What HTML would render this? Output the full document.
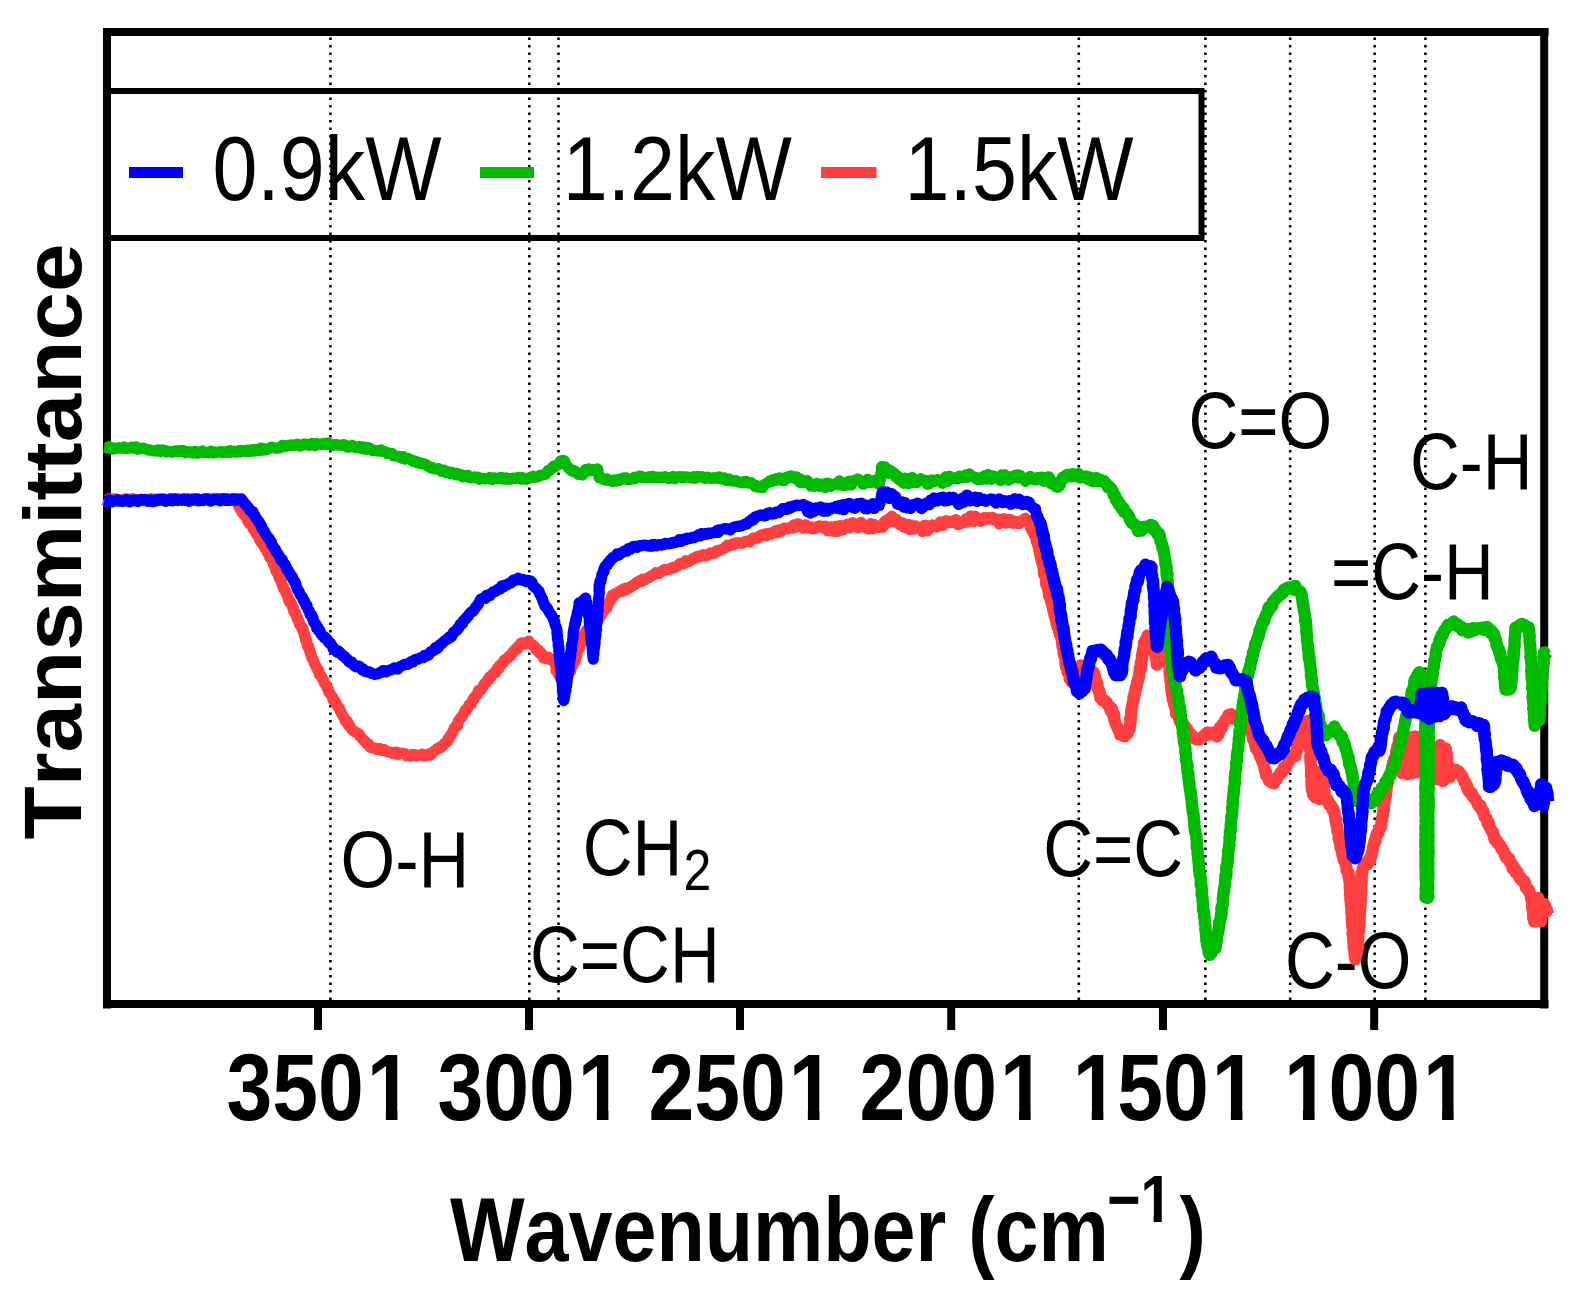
<!DOCTYPE html>
<html lang="en"><head><meta charset="utf-8"><title>FTIR transmittance spectra</title>
<style>html,body{margin:0;padding:0;background:#fff}svg{display:block}</style></head>
<body>
<svg width="1575" height="1305" viewBox="0 0 1575 1305" font-family='"Liberation Sans", sans-serif' fill="#000" style="font-kerning:none">
<rect width="1575" height="1305" fill="#fff"/>
<g stroke="#000" stroke-width="2.6" stroke-dasharray="2.6 4.9" fill="none">
<line x1="330.4" y1="37.5" x2="330.4" y2="1000"/>
<line x1="529.3" y1="37.5" x2="529.3" y2="1000"/>
<line x1="558.5" y1="37.5" x2="558.5" y2="1000"/>
<line x1="1078.8" y1="37.5" x2="1078.8" y2="1000"/>
<line x1="1205.4" y1="37.5" x2="1205.4" y2="1000"/>
<line x1="1290.2" y1="37.5" x2="1290.2" y2="1000"/>
<line x1="1374.7" y1="37.5" x2="1374.7" y2="1000"/>
<line x1="1425.4" y1="37.5" x2="1425.4" y2="1000"/>
</g>
<rect x="107" y="91" width="1094.5" height="147" fill="none" stroke="#000" stroke-width="6"/>
<rect x="129" y="167" width="54" height="11" fill="#0000ff"/>
<rect x="480" y="167" width="54" height="11" fill="#00bb00"/>
<rect x="821" y="167" width="55.5" height="11" fill="#ff4040"/>
<text transform="translate(212.4 199.5) scale(0.8980 1)" font-size="90" text-anchor="start">0.9kW</text>
<text transform="translate(562.7 199.5) scale(0.8980 1)" font-size="90" text-anchor="start">1.2kW</text>
<text transform="translate(904.6 199.5) scale(0.8980 1)" font-size="90" text-anchor="start">1.5kW</text>
<text transform="translate(340.5 886.6) scale(0.8843 1)" font-size="79.5" text-anchor="start">O-H</text>
<text transform="translate(582.7 874.9) scale(0.8670 1)" font-size="79.5" text-anchor="start">CH<tspan font-size="57.7" dy="14.6" dx="1.5">2</tspan></text>
<text transform="translate(530.1 981.5) scale(0.8670 1)" font-size="79.5" text-anchor="start">C=CH</text>
<text transform="translate(1043.3 876.0) scale(0.8670 1)" font-size="79.5" text-anchor="start">C=C</text>
<text transform="translate(1188.6 447.7) scale(0.8670 1)" font-size="79.5" text-anchor="start">C=O</text>
<text transform="translate(1410.0 489.1) scale(0.8670 1)" font-size="79.5" text-anchor="start">C-H</text>
<text transform="translate(1331.0 599.2) scale(0.8670 1)" font-size="79.5" text-anchor="start">=C-H</text>
<text transform="translate(1285.0 988.2) scale(0.8670 1)" font-size="79.5" text-anchor="start">C-O</text>
<g stroke="#000" stroke-width="8" fill="none" stroke-linecap="butt">
<line x1="103" y1="32" x2="1548.5" y2="32"/>
<line x1="103" y1="1004" x2="1548.5" y2="1004"/>
<line x1="107" y1="28" x2="107" y2="1008.5"/>
<line x1="1544.2" y1="28" x2="1544.2" y2="1008.5"/>
<line x1="318.0" y1="1008" x2="318.0" y2="1030"/>
<line x1="529.0" y1="1008" x2="529.0" y2="1030"/>
<line x1="740.0" y1="1008" x2="740.0" y2="1030"/>
<line x1="951.2" y1="1008" x2="951.2" y2="1030"/>
<line x1="1163.0" y1="1008" x2="1163.0" y2="1030"/>
<line x1="1374.2" y1="1008" x2="1374.2" y2="1030"/>
</g>
<text transform="translate(226.4 1120.0) scale(0.8760 1)" font-size="94" font-weight="bold" text-anchor="start">350<tspan dx="3.42">1</tspan></text>
<text transform="translate(437.4 1120.0) scale(0.8760 1)" font-size="94" font-weight="bold" text-anchor="start">300<tspan dx="3.42">1</tspan></text>
<text transform="translate(648.4 1120.0) scale(0.8760 1)" font-size="94" font-weight="bold" text-anchor="start">250<tspan dx="3.42">1</tspan></text>
<text transform="translate(859.6 1120.0) scale(0.8760 1)" font-size="94" font-weight="bold" text-anchor="start">200<tspan dx="3.42">1</tspan></text>
<text transform="translate(1071.4 1120.0) scale(0.8760 1)" font-size="94" font-weight="bold" text-anchor="start"><tspan dx="1.48">1</tspan><tspan dx="-1.48">5</tspan>0<tspan dx="3.42">1</tspan></text>
<text transform="translate(1282.6 1120.0) scale(0.8760 1)" font-size="94" font-weight="bold" text-anchor="start"><tspan dx="1.48">1</tspan><tspan dx="-1.48">0</tspan>0<tspan dx="3.42">1</tspan></text>
<rect x="370.38" y="1109.41" width="15.48" height="11.59" fill="#fff"/>
<rect x="397.46" y="1109.41" width="14.44" height="11.59" fill="#fff"/>
<rect x="581.38" y="1109.41" width="15.48" height="11.59" fill="#fff"/>
<rect x="608.46" y="1109.41" width="14.44" height="11.59" fill="#fff"/>
<rect x="792.38" y="1109.41" width="15.48" height="11.59" fill="#fff"/>
<rect x="819.46" y="1109.41" width="14.44" height="11.59" fill="#fff"/>
<rect x="1003.58" y="1109.41" width="15.48" height="11.59" fill="#fff"/>
<rect x="1030.66" y="1109.41" width="14.44" height="11.59" fill="#fff"/>
<rect x="1076.30" y="1109.41" width="15.48" height="11.59" fill="#fff"/>
<rect x="1103.38" y="1109.41" width="14.44" height="11.59" fill="#fff"/>
<rect x="1215.38" y="1109.41" width="15.48" height="11.59" fill="#fff"/>
<rect x="1242.46" y="1109.41" width="14.44" height="11.59" fill="#fff"/>
<rect x="1287.50" y="1109.41" width="15.48" height="11.59" fill="#fff"/>
<rect x="1314.58" y="1109.41" width="14.44" height="11.59" fill="#fff"/>
<rect x="1426.58" y="1109.41" width="15.48" height="11.59" fill="#fff"/>
<rect x="1453.66" y="1109.41" width="14.44" height="11.59" fill="#fff"/>
<text transform="translate(450 1261) scale(0.8687 1)" font-size="91" font-weight="bold">Wavenumber (cm<tspan font-size="66" x="756.2" y="-39">−1</tspan><tspan x="839.8" y="0">)</tspan></text>
<rect x="1142.39" y="1214.26" width="11.22" height="8.74" fill="#fff"/>
<rect x="1161.78" y="1214.26" width="10.49" height="8.74" fill="#fff"/>
<text transform="translate(80.6 541.6) rotate(-90) scale(1 0.9400)" font-size="87.2" font-weight="bold" text-anchor="middle">Transmittance</text>
<g fill="none" stroke-linejoin="round" stroke-linecap="butt">
<path stroke="#ff4040" stroke-width="11.2" d="M103.7,499.6 L105.4,500.4 L107.3,500.1 L109.1,498.9 L110.7,498.8 L112.2,498.9 L114.4,499.8 L115.6,499.0 L117.9,500.3 L119.2,500.1 L120.6,501.1 L122.5,500.8 L124.0,499.0 L126.2,499.4 L127.8,499.1 L129.3,500.3 L130.7,500.0 L132.5,498.8 L134.4,500.3 L136.2,499.4 L137.7,499.8 L139.7,500.6 L141.3,499.2 L143.2,499.9 L144.5,500.4 L146.0,501.0 L148.2,499.6 L149.7,499.0 L151.5,498.7 L153.1,500.5 L154.6,500.7 L156.5,500.3 L158.1,500.0 L160.2,500.6 L161.7,499.7 L163.4,498.7 L165.3,500.1 L166.5,500.6 L168.4,499.5 L170.0,498.6 L171.4,498.9 L173.6,498.6 L174.9,498.8 L177.0,499.5 L178.4,498.7 L180.4,499.8 L182.1,500.5 L183.5,499.1 L185.5,499.3 L186.7,500.8 L188.4,498.9 L190.3,499.0 L191.8,499.9 L193.6,498.4 L195.4,499.3 L197.2,500.8 L198.9,499.7 L200.1,500.1 L202.4,500.6 L204.1,500.6 L205.5,499.3 L207.3,498.6 L208.6,498.5 L210.4,498.9 L212.0,499.2 L213.7,498.3 L215.6,498.6 L217.7,498.4 L218.8,499.8 L220.7,498.9 L222.2,499.2 L224.5,500.4 L225.8,499.5 L227.2,498.5 L229.1,499.1 L230.7,500.3 L233.0,498.3 L234.0,499.6 L235.6,499.6 L237.0,501.3 L237.3,503.8 L237.7,504.0 L238.6,505.5 L239.5,507.7 L240.1,508.6 L241.6,511.2 L242.4,512.6 L243.2,513.9 L244.0,513.8 L244.6,515.5 L245.7,516.0 L246.9,517.9 L247.7,521.0 L249.0,522.4 L249.5,523.8 L250.3,523.3 L251.2,524.6 L252.7,527.0 L253.3,529.0 L254.4,530.0 L255.2,530.1 L256.2,533.6 L256.9,534.7 L258.0,534.8 L258.9,536.6 L259.5,539.7 L260.8,539.8 L261.1,542.0 L262.0,542.0 L263.4,545.4 L264.3,545.0 L265.0,548.6 L265.9,548.5 L266.3,549.4 L267.7,553.0 L268.8,553.4 L269.5,554.7 L269.7,557.3 L270.5,557.5 L271.4,559.0 L272.0,560.7 L273.1,561.9 L273.4,564.1 L274.5,566.2 L275.2,567.4 L275.6,569.2 L275.9,570.9 L276.8,572.3 L277.9,572.8 L278.4,574.8 L279.1,577.8 L279.8,578.4 L280.7,580.5 L281.2,581.0 L281.7,583.0 L282.6,585.9 L283.5,587.0 L284.0,589.4 L284.7,590.3 L285.5,591.6 L286.1,593.1 L287.2,594.7 L287.8,596.9 L288.1,599.1 L289.3,599.7 L289.4,602.0 L290.4,601.8 L290.9,603.3 L292.0,604.9 L292.9,608.2 L293.4,608.2 L293.7,611.1 L295.1,613.3 L295.8,613.2 L296.1,615.2 L297.1,618.3 L297.5,617.9 L298.2,620.3 L298.9,621.1 L299.4,624.1 L300.4,625.2 L301.0,625.5 L301.9,628.6 L303.0,628.8 L303.5,632.2 L303.5,632.1 L304.4,633.5 L304.4,635.7 L305.5,637.7 L305.5,640.2 L306.5,640.2 L306.9,642.8 L306.9,643.2 L307.7,646.3 L308.6,646.3 L309.0,649.3 L309.6,649.5 L310.1,650.9 L310.3,653.4 L311.3,655.1 L311.2,655.9 L311.8,658.1 L312.5,658.5 L313.3,659.9 L314.1,662.1 L314.9,664.7 L315.6,665.6 L316.2,666.7 L317.0,668.0 L318.1,670.8 L318.8,670.9 L319.3,674.3 L320.3,675.5 L321.4,676.2 L321.9,677.5 L323.0,679.8 L323.7,680.4 L324.3,682.9 L324.8,683.6 L325.4,684.3 L326.6,685.8 L327.0,687.8 L328.2,688.9 L328.9,692.4 L329.3,692.5 L330.4,694.0 L331.2,695.2 L332.5,696.9 L333.1,700.2 L334.3,699.9 L334.8,701.6 L335.7,702.3 L336.7,705.0 L337.5,705.8 L338.3,706.8 L339.3,708.5 L339.9,709.9 L340.9,712.1 L342.0,714.3 L343.0,716.2 L344.1,717.6 L344.5,718.2 L345.3,721.1 L346.5,721.9 L347.6,721.6 L348.3,725.1 L349.3,726.1 L349.9,726.0 L351.1,728.3 L352.4,730.2 L353.8,730.8 L355.0,732.2 L355.8,732.2 L357.4,733.1 L359.2,734.2 L360.3,736.5 L361.7,737.8 L362.4,738.7 L364.2,740.7 L365.2,741.2 L366.0,742.8 L367.4,744.2 L368.5,743.8 L369.7,746.6 L371.5,747.9 L372.7,747.7 L374.6,748.1 L376.3,749.2 L377.5,749.4 L379.4,748.5 L381.1,750.5 L382.6,750.4 L384.5,749.6 L386.5,751.6 L387.9,752.0 L389.7,752.0 L391.1,752.3 L392.9,753.6 L395.1,754.1 L396.4,752.0 L398.5,754.2 L399.7,753.5 L401.9,753.2 L403.3,753.5 L405.0,753.5 L406.4,755.8 L408.3,755.7 L410.2,756.2 L412.0,754.8 L413.1,755.7 L415.1,754.7 L416.7,756.1 L418.4,755.0 L420.5,755.2 L422.1,754.1 L423.3,755.9 L425.5,755.9 L426.8,755.5 L428.6,753.9 L430.5,755.2 L432.0,753.4 L433.0,752.1 L434.9,750.6 L436.2,750.0 L437.0,748.8 L438.2,748.4 L440.0,747.0 L441.2,747.3 L442.5,745.6 L443.5,745.3 L444.4,743.7 L446.0,742.6 L447.4,741.6 L447.9,739.0 L448.8,739.1 L449.9,736.4 L451.1,734.5 L451.6,734.7 L452.5,732.4 L453.5,730.7 L454.2,728.2 L455.7,726.8 L456.0,726.1 L457.5,725.6 L457.8,722.9 L458.6,720.8 L459.5,719.7 L460.5,717.9 L461.9,717.3 L462.4,716.2 L463.5,714.0 L464.3,712.4 L465.2,710.2 L466.0,711.0 L467.4,708.5 L468.0,707.9 L469.0,705.0 L470.1,703.9 L471.4,703.9 L471.7,702.2 L473.2,698.7 L474.0,699.4 L474.6,697.2 L476.2,695.3 L477.1,694.9 L477.6,693.9 L478.6,690.4 L480.1,690.1 L481.3,689.8 L482.4,687.8 L483.4,686.0 L484.6,683.6 L485.8,682.7 L486.5,682.5 L487.6,679.8 L489.0,679.8 L489.6,677.1 L491.1,676.8 L491.9,675.2 L492.9,674.4 L494.3,672.3 L495.6,672.6 L496.6,671.1 L497.5,668.2 L498.9,668.7 L499.5,665.7 L501.1,664.8 L501.9,663.3 L503.5,662.6 L504.0,660.3 L505.5,659.4 L506.5,659.1 L508.1,658.2 L508.9,656.3 L510.2,656.3 L511.3,654.7 L512.9,652.0 L514.2,651.0 L514.8,650.3 L516.2,648.5 L517.8,648.4 L518.5,645.9 L520.2,644.9 L520.7,643.5 L522.4,642.8 L524.3,644.4 L525.9,643.5 L527.0,643.5 L528.9,641.1 L529.5,643.6 L531.0,644.4 L532.3,644.8 L533.3,645.3 L534.8,646.7 L535.9,649.4 L537.1,650.7 L538.6,650.5 L539.4,652.9 L540.5,652.2 L541.9,654.3 L542.6,655.1 L543.4,658.1 L545.7,657.3 L546.9,658.6 L548.6,657.2 L550.4,659.9 L552.6,659.9 L553.8,659.3 L554.5,662.5 L555.0,662.5 L555.1,664.3 L555.9,665.2 L556.2,669.2 L556.1,670.9 L557.3,670.6 L558.4,673.9 L558.7,673.9 L559.6,675.5 L560.2,678.2 L561.4,679.3 L562.2,680.8 L563.1,679.3 L564.3,677.5 L565.3,677.7 L567.0,675.2 L567.7,674.4 L568.8,672.2 L569.9,671.4 L570.7,671.2 L570.8,668.0 L571.9,666.0 L572.7,665.9 L573.5,663.1 L574.4,662.5 L575.1,661.2 L575.1,659.4 L575.8,658.2 L576.4,655.9 L576.8,654.7 L577.4,651.8 L578.4,649.9 L578.5,649.4 L579.6,647.3 L579.5,645.9 L580.4,645.1 L580.5,643.9 L581.6,641.0 L582.2,640.3 L582.5,636.8 L583.1,635.5 L584.1,636.2 L584.7,634.6 L585.5,633.0 L586.5,630.1 L586.7,630.3 L588.5,628.6 L589.7,626.8 L591.0,625.8 L592.7,625.2 L593.8,625.4 L594.9,622.4 L595.8,622.7 L596.9,620.4 L598.1,620.2 L598.8,617.0 L600.2,616.5 L600.9,615.7 L602.3,613.2 L602.9,612.3 L604.3,610.7 L604.9,609.2 L605.7,607.9 L607.1,607.7 L607.4,605.1 L608.3,604.5 L609.7,601.3 L610.5,600.9 L611.3,599.2 L611.4,597.7 L612.4,595.0 L614.1,595.7 L615.3,593.5 L616.6,593.4 L617.9,592.1 L619.8,592.2 L620.9,590.3 L622.6,591.3 L623.4,588.9 L625.5,590.1 L626.3,588.2 L628.0,588.6 L629.7,587.8 L630.8,586.8 L632.3,586.0 L634.2,584.3 L635.2,584.6 L636.8,582.3 L638.3,582.4 L639.7,580.6 L641.6,581.4 L642.8,579.0 L644.1,580.0 L645.7,579.4 L647.6,578.1 L649.1,577.4 L650.9,576.1 L652.5,575.3 L654.0,574.6 L655.7,572.8 L657.0,573.4 L659.0,573.5 L660.2,572.1 L661.7,571.5 L663.5,570.1 L665.2,569.4 L666.5,569.8 L668.1,569.5 L670.2,569.2 L671.3,568.0 L673.1,567.3 L674.5,567.6 L676.7,566.6 L678.1,565.6 L679.8,563.5 L681.3,563.5 L682.3,564.0 L684.5,563.1 L685.6,560.7 L687.1,561.8 L688.7,561.6 L690.2,560.8 L692.4,559.4 L693.5,558.1 L695.1,558.3 L696.6,556.5 L698.7,556.2 L700.3,556.9 L701.9,555.3 L703.3,554.7 L704.8,555.6 L706.6,555.8 L708.5,554.6 L710.3,553.0 L711.4,553.6 L712.9,553.4 L714.8,553.2 L716.5,550.9 L717.7,550.4 L719.2,550.5 L721.0,550.0 L723.1,548.9 L724.5,548.1 L725.6,546.7 L727.3,545.3 L729.1,546.1 L731.1,545.1 L732.3,543.9 L733.9,544.8 L735.9,542.9 L737.7,542.8 L739.6,542.8 L741.0,543.3 L743.0,543.1 L745.0,541.5 L746.2,541.5 L748.3,540.8 L750.0,541.9 L751.2,539.8 L753.1,538.0 L754.5,538.5 L756.2,537.9 L758.0,538.2 L759.7,536.0 L761.0,535.1 L762.3,535.5 L764.3,534.2 L765.8,533.7 L767.0,535.6 L769.0,533.3 L770.6,533.6 L771.8,534.0 L773.5,532.2 L775.5,530.9 L777.0,532.8 L778.7,529.8 L780.0,531.9 L781.5,531.3 L782.8,528.8 L784.2,528.2 L786.3,528.1 L787.9,529.0 L789.0,528.6 L790.6,527.3 L792.2,527.9 L793.9,524.8 L795.1,527.7 L796.4,526.8 L798.3,523.8 L800.5,526.8 L801.7,527.1 L803.4,528.3 L805.6,524.8 L807.1,527.5 L809.0,528.1 L810.6,527.1 L812.3,528.9 L813.9,527.6 L815.3,528.7 L817.2,526.7 L819.1,526.0 L820.1,526.6 L822.5,526.4 L823.6,528.1 L825.3,526.2 L827.4,530.7 L829.2,530.8 L830.8,526.8 L832.6,528.9 L834.4,531.5 L836.1,526.3 L837.8,531.5 L839.0,525.9 L840.5,525.6 L842.8,530.1 L844.5,528.3 L845.8,528.0 L847.3,524.2 L849.1,528.1 L851.0,525.0 L852.5,522.7 L854.6,524.1 L856.0,524.3 L857.8,527.8 L859.5,527.4 L861.0,522.3 L862.9,525.2 L864.5,524.9 L865.7,526.4 L867.3,528.8 L869.0,528.8 L870.6,523.7 L872.8,528.9 L874.1,524.3 L875.9,527.7 L877.3,526.0 L879.2,527.3 L880.9,527.0 L881.5,525.9 L882.9,527.3 L884.1,522.2 L885.3,520.8 L886.5,523.5 L887.3,521.8 L888.5,519.0 L889.4,520.9 L890.4,519.6 L892.0,516.2 L893.6,521.7 L895.3,519.3 L896.4,519.3 L898.0,522.2 L899.4,524.7 L900.5,523.0 L902.3,522.8 L903.7,527.1 L905.1,524.1 L906.9,528.4 L908.5,524.4 L910.1,529.7 L911.8,525.4 L913.9,529.1 L915.1,525.8 L916.9,526.7 L918.4,528.7 L920.2,527.3 L922.3,531.4 L924.1,525.6 L925.4,525.4 L927.4,531.0 L928.9,529.2 L930.7,525.6 L932.1,524.9 L933.7,526.6 L935.7,525.9 L937.0,527.0 L938.5,525.9 L940.2,521.9 L941.8,522.9 L943.1,525.4 L944.8,522.5 L946.0,520.7 L948.0,521.9 L949.4,521.5 L951.0,522.6 L952.6,521.9 L954.4,520.4 L955.9,519.6 L957.9,524.7 L959.2,524.3 L961.0,522.4 L962.5,523.0 L964.5,522.7 L965.9,518.9 L967.3,522.1 L969.3,519.6 L970.5,516.0 L972.3,516.2 L973.8,521.4 L975.5,516.2 L977.3,519.2 L979.0,519.2 L980.6,521.4 L982.6,518.9 L984.1,517.7 L985.8,519.1 L987.7,517.5 L988.7,519.2 L990.7,518.8 L992.4,517.3 L994.3,520.1 L995.6,519.9 L997.7,519.2 L999.2,523.9 L1001.2,519.2 L1002.5,520.4 L1004.6,518.7 L1006.2,523.2 L1007.9,521.0 L1009.9,519.4 L1011.4,520.3 L1013.2,523.3 L1014.6,521.1 L1016.2,521.6 L1018.1,523.5 L1019.7,523.6 L1021.4,520.6 L1023.1,520.9 L1025.2,518.2 L1026.6,520.1 L1028.5,520.2 L1029.3,522.7 L1029.8,525.6 L1030.9,528.7 L1031.6,525.5 L1032.3,531.5 L1033.1,529.3 L1033.2,533.2 L1034.6,532.1 L1034.8,536.4 L1035.2,535.8 L1036.1,538.1 L1036.1,540.2 L1037.1,543.8 L1037.6,542.9 L1038.0,546.0 L1038.5,547.8 L1039.0,549.8 L1039.3,549.7 L1039.8,552.3 L1040.4,553.6 L1040.4,555.7 L1040.8,556.1"/>
<path stroke="#ff4040" stroke-width="12.3" d="M1039.3,549.7 L1039.8,552.3 L1040.4,553.6 L1040.4,555.7 L1040.8,556.1 L1041.2,558.8 L1041.6,560.4 L1042.2,562.2 L1042.8,564.1 L1043.2,563.7 L1043.3,567.2 L1043.9,569.6 L1043.9,570.2 L1044.0,574.2 L1044.8,574.6 L1045.1,574.0 L1045.7,578.2 L1046.1,578.5 L1046.1,580.9 L1046.1,584.1 L1046.9,585.1 L1047.5,585.4 L1047.5,587.2 L1048.1,589.5 L1048.3,589.9 L1048.8,592.4 L1049.1,595.6 L1049.6,597.2 L1049.9,597.6 L1050.9,599.3 L1051.2,601.5 L1051.2,601.9 L1051.9,603.4 L1052.5,606.4 L1052.9,605.7 L1053.2,610.6 L1053.4,609.0 L1053.8,610.5 L1054.6,615.7 L1055.2,616.4 L1055.5,619.0 L1056.0,619.6 L1056.4,621.5 L1056.6,623.2 L1057.2,624.8 L1057.5,626.8 L1057.9,626.2 L1059.0,630.2 L1059.1,631.4 L1059.8,633.8 L1059.9,634.4 L1060.5,635.1 L1061.0,636.8 L1061.8,639.7 L1061.8,639.2 L1061.8,640.8 L1062.4,645.4 L1062.6,647.5 L1062.9,645.7 L1063.6,649.6 L1063.5,652.8 L1063.6,652.3 L1063.9,654.9 L1064.1,654.7 L1064.9,655.8 L1065.4,657.9 L1065.6,659.5 L1065.3,661.3 L1065.7,665.3 L1066.0,667.0 L1066.9,666.1 L1067.6,670.3 L1067.5,672.1 L1068.5,673.4 L1069.2,674.4 L1069.8,675.3 L1069.6,678.8 L1071.1,677.6 L1071.7,682.2 L1073.2,681.8 L1074.3,682.7 L1074.5,682.5 L1075.7,680.7 L1076.5,679.6 L1077.4,677.0 L1078.1,676.5 L1078.4,675.9 L1079.0,673.4 L1079.5,674.0 L1079.5,671.0 L1080.4,667.5 L1080.7,668.4 L1081.0,665.4 L1081.5,666.4 L1082.8,665.8 L1084.9,666.0 L1086.5,666.6 L1088.3,668.4 L1089.0,670.5 L1090.1,668.6 L1091.4,671.5 L1092.8,674.3 L1093.8,672.6 L1095.0,676.8 L1095.0,677.5 L1095.8,680.2 L1096.3,681.2 L1096.2,681.5 L1097.2,683.9 L1097.6,684.1 L1097.6,688.6 L1098.4,688.9 L1098.5,690.0 L1099.3,690.8 L1099.6,694.5 L1100.3,693.4 L1100.3,697.7 L1101.9,698.2 L1102.8,700.8 L1104.0,700.5 L1104.8,700.8 L1106.4,702.1 L1107.4,704.1 L1108.5,705.6 L1109.3,706.0 L1110.7,710.6 L1112.0,708.5 L1112.1,712.7 L1112.8,713.6 L1113.0,714.9 L1114.2,714.6 L1114.3,719.4 L1114.6,719.9 L1115.2,722.3 L1116.0,724.5 L1116.6,725.6 L1116.4,725.0 L1117.0,726.4 L1117.4,727.6 L1118.9,730.7 L1119.9,731.6 L1120.2,734.6 L1121.4,734.7 L1122.8,734.1 L1123.4,736.0 L1124.7,736.2 L1125.3,735.0 L1126.0,732.8 L1127.6,733.6 L1127.9,729.4 L1129.1,728.3 L1129.7,729.1 L1129.3,727.1 L1130.0,725.2 L1130.5,723.0 L1130.1,719.0 L1130.9,720.1 L1130.6,718.1 L1131.2,716.0 L1131.1,712.5 L1131.2,711.4 L1131.4,710.6 L1131.6,707.9 L1131.7,707.9 L1132.1,706.4 L1132.9,702.1 L1133.1,701.1 L1133.3,701.9 L1133.4,697.5 L1134.2,695.7 L1134.3,696.9 L1134.5,693.7 L1135.1,693.5 L1135.2,691.1 L1135.6,687.9 L1136.4,688.2 L1137.0,684.3 L1137.1,683.2 L1137.4,681.1 L1137.8,682.1 L1138.4,677.9 L1139.1,676.8 L1139.4,674.4 L1139.6,672.5 L1139.4,673.2 L1139.7,670.8 L1139.9,668.3 L1140.8,667.1 L1141.0,667.9 L1140.8,662.8 L1140.9,664.2 L1141.4,661.9 L1141.4,661.3 L1141.9,659.0 L1142.0,654.7 L1142.6,655.8 L1142.8,651.6 L1142.9,652.8 L1143.1,649.8 L1143.9,646.7 L1143.7,647.1 L1143.9,643.0 L1144.5,643.4 L1145.1,640.6 L1146.2,640.4 L1146.9,639.6 L1147.3,635.7 L1148.3,636.2 L1149.3,637.7 L1150.7,639.6 L1152.3,641.3 L1152.0,641.6 L1152.6,644.9 L1152.8,646.3 L1153.6,645.3 L1153.4,647.7 L1154.1,649.3 L1154.3,649.5 L1154.7,652.9 L1155.2,653.2 L1155.6,657.6 L1155.8,657.3 L1156.2,659.1 L1156.6,659.5 L1156.7,664.6 L1157.0,664.6 L1157.3,663.1 L1158.1,663.3 L1158.6,658.8 L1159.8,657.5 L1159.9,655.2 L1160.6,656.3 L1161.5,652.1 L1162.1,652.8 L1162.4,651.8 L1163.3,650.7 L1163.2,645.8 L1163.9,645.8 L1164.1,643.2 L1164.5,642.0 L1165.4,641.0 L1165.6,637.6 L1165.7,638.2 L1166.5,640.2 L1166.4,640.3 L1166.6,643.8 L1167.2,643.8 L1166.9,647.1 L1167.1,646.7 L1167.8,649.3 L1168.0,652.4 L1168.1,654.2 L1168.1,653.1 L1168.6,658.3 L1168.4,657.3 L1168.6,660.5 L1168.5,661.7 L1169.0,663.0 L1168.9,663.1 L1169.5,668.4 L1169.6,670.0 L1169.9,671.2 L1169.5,673.1 L1169.8,673.8 L1170.0,675.6 L1170.6,676.8 L1170.3,678.8 L1170.6,680.0 L1170.7,683.4 L1171.1,682.5 L1171.2,683.5 L1171.3,688.4 L1171.4,687.4 L1171.4,690.1 L1171.5,690.1 L1171.9,692.5 L1171.9,694.1 L1172.3,695.0 L1172.8,699.5 L1173.2,700.1 L1173.7,700.2 L1173.9,702.8 L1174.3,705.0 L1174.5,705.5 L1175.1,706.7 L1175.6,708.9 L1175.8,709.1 L1176.1,714.0 L1176.7,714.4 L1177.5,715.0 L1178.3,716.4 L1178.7,717.4 L1179.9,721.6 L1180.9,719.9 L1182.1,722.8 L1182.7,722.9 L1184.0,727.6 L1184.7,726.0 L1186.2,728.0 L1187.6,730.3 L1188.6,732.3 L1190.0,733.3 L1191.1,734.6 L1192.6,736.0 L1193.6,737.7 L1194.9,738.7 L1196.8,739.5 L1198.5,739.7 L1199.5,739.0 L1201.2,738.9 L1202.2,737.2 L1203.6,735.7 L1204.8,735.8 L1206.4,733.5 L1207.6,732.6 L1209.6,734.4 L1210.9,733.6 L1212.4,732.7 L1214.2,732.9 L1215.4,734.9 L1217.2,736.5 L1218.3,734.8 L1218.5,733.8 L1219.8,730.3 L1219.9,727.3 L1220.9,728.0 L1221.9,727.9 L1222.7,725.0 L1223.1,723.5 L1224.1,722.8 L1225.3,720.1 L1226.7,718.8 L1227.5,718.7 L1228.4,715.1 L1229.7,714.9 L1231.0,714.2 L1232.0,716.6 L1233.4,715.6 L1234.4,718.7 L1236.1,717.8 L1237.0,717.4 L1238.6,721.5 L1239.5,720.6 L1241.4,723.1 L1243.1,723.7 L1244.1,725.0 L1245.4,723.1 L1247.0,725.4 L1248.2,725.1 L1250.0,727.8 L1250.7,728.3 L1250.5,731.0 L1251.5,731.7 L1251.9,732.9 L1252.1,733.3 L1252.8,738.2 L1253.0,739.1 L1253.7,740.0 L1254.3,740.7 L1255.0,743.3 L1255.1,745.1 L1255.3,744.9 L1256.0,748.8 L1256.8,747.7 L1258.0,750.8 L1258.7,752.6 L1258.9,751.9 L1259.8,756.1 L1260.6,757.3 L1261.2,756.6 L1262.2,757.9 L1262.2,761.4 L1262.7,762.5 L1263.6,762.6 L1264.1,766.2 L1264.3,767.3 L1264.4,768.1 L1265.5,772.4 L1266.0,771.6 L1266.0,775.1 L1267.0,775.9 L1267.4,777.1 L1268.0,777.4 L1268.8,780.6 L1270.3,780.4 L1271.2,782.4 L1271.7,782.8 L1272.8,782.1 L1274.0,783.4 L1275.0,780.7 L1276.3,779.5 L1277.2,777.8 L1278.8,775.6 L1279.3,775.2 L1280.2,773.2 L1281.0,772.0 L1282.1,772.3 L1283.3,769.0 L1283.8,767.4 L1284.7,768.8 L1286.3,765.8 L1286.7,765.7 L1288.2,762.4 L1289.3,761.0 L1290.3,758.9 L1291.1,758.7 L1292.4,757.1 L1293.9,756.8 L1295.5,756.1 L1295.7,752.5 L1296.1,751.9 L1296.6,751.3 L1297.3,748.4 L1298.0,745.9 L1298.4,744.8 L1298.6,743.9 L1298.9,741.6 L1300.0,739.2 L1300.4,738.3 L1301.0,735.9 L1301.5,735.3 L1301.8,733.5 L1302.6,732.1 L1303.5,729.8 L1303.9,728.9 L1304.9,729.8 L1305.7,728.3 L1306.0,723.9 L1307.1,722.1 L1307.6,723.1 L1308.5,720.7 L1308.3,723.4 L1308.5,725.7 L1308.5,726.5 L1309.1,726.2 L1309.1,730.2 L1308.7,729.2 L1308.9,731.4 L1309.1,733.6 L1309.2,734.2 L1309.2,738.2 L1309.6,740.6 L1309.4,741.8 L1309.8,742.4 L1309.4,743.7 L1310.1,747.3 L1309.7,746.8 L1310.2,750.7 L1310.0,749.2 L1310.5,751.2 L1310.7,753.2 L1310.2,757.0 L1310.5,758.5 L1310.9,760.4 L1310.4,760.3 L1310.7,764.5 L1311.0,766.2 L1311.2,767.1 L1311.0,768.4 L1311.2,767.9 L1311.2,771.0 L1311.0,774.7 L1311.0,775.7 L1311.6,777.2 L1311.5,777.2 L1311.7,781.6 L1311.4,781.7 L1311.6,781.5 L1311.6,784.6 L1311.6,785.9 L1312.1,789.1 L1311.8,789.0 L1312.6,791.7 L1313.1,794.9 L1314.1,794.0 L1314.4,795.0 L1315.2,797.4 L1315.4,796.5 L1315.5,793.3 L1315.5,793.2 L1315.9,792.1 L1315.7,787.8 L1315.8,787.1 L1316.0,784.2 L1316.5,783.0 L1316.2,782.2 L1316.6,780.0 L1316.6,778.4 L1316.6,775.5 L1317.4,777.4 L1317.5,772.1 L1317.5,773.9 L1317.7,772.2 L1317.6,775.2 L1317.6,777.4 L1318.3,780.6 L1318.7,781.2 L1318.3,783.0 L1318.4,783.1 L1319.0,784.0 L1318.8,788.9 L1319.3,788.1 L1319.7,792.4 L1319.7,791.5 L1319.8,795.8 L1319.6,795.6 L1319.9,799.3 L1320.2,795.8 L1320.6,794.1 L1320.2,791.8 L1320.8,791.4 L1321.0,790.7 L1321.4,789.3 L1321.2,786.0 L1321.3,783.0 L1321.3,782.9 L1321.5,781.6 L1322.3,778.9 L1321.8,775.8 L1322.1,775.5 L1322.1,774.9 L1322.9,777.0 L1322.8,778.4 L1323.2,778.1 L1323.2,780.6 L1323.3,781.6 L1323.8,784.5 L1323.5,787.1 L1323.9,786.4 L1324.0,789.0 L1324.0,789.2 L1324.4,791.4 L1324.9,795.5 L1325.2,796.8 L1325.1,798.8 L1325.7,799.7 L1327.1,800.7 L1328.1,800.7 L1329.0,804.8 L1329.7,805.1 L1331.1,805.5 L1331.4,805.9 L1332.5,810.0 L1333.5,809.2 L1334.4,811.9 L1334.6,813.7 L1334.8,816.0 L1335.0,815.9 L1335.6,820.6 L1336.1,819.2 L1335.8,821.4 L1336.3,824.2 L1336.8,825.7 L1337.1,826.3 L1337.4,827.5 L1337.4,831.0 L1337.7,832.0 L1338.6,833.8 L1338.8,835.9 L1338.7,838.4 L1339.5,841.1 L1340.0,839.3 L1339.8,842.2 L1340.5,846.1 L1340.5,847.1 L1340.8,848.8 L1341.4,848.4 L1342.0,849.3 L1342.1,851.8 L1342.5,855.4 L1343.2,857.7 L1343.6,859.3 L1344.3,861.1 L1344.7,859.8 L1345.2,862.1 L1345.7,865.0 L1345.8,864.5 L1346.7,868.5 L1346.5,870.1 L1347.0,871.2 L1348.0,872.6 L1348.6,872.6 L1348.5,876.4 L1349.2,876.1 L1349.4,880.3 L1349.1,879.2 L1349.8,881.0 L1349.7,883.0 L1349.9,885.1 L1349.7,887.2 L1350.1,890.8 L1350.4,891.8 L1349.9,894.5 L1350.1,893.9 L1350.8,896.2 L1350.3,899.1 L1351.0,898.4 L1350.8,902.1 L1350.8,903.0 L1351.1,906.2 L1351.3,908.0 L1351.3,906.6 L1351.8,908.9 L1351.3,912.0 L1351.6,912.1 L1351.8,914.9 L1351.8,916.2 L1352.0,916.4 L1351.7,919.4 L1352.5,921.5 L1352.0,921.6 L1352.2,925.7 L1352.5,925.8 L1352.6,927.4 L1353.0,930.1 L1352.4,933.6 L1353.0,933.6 L1353.1,936.4 L1353.1,937.2 L1353.0,937.8 L1353.5,941.1 L1353.4,943.4 L1353.6,942.6 L1353.5,945.9 L1353.6,947.2 L1353.9,948.5 L1354.0,948.2 L1354.7,950.9 L1354.5,953.2 L1354.6,953.9 L1354.7,955.9 L1355.5,956.2 L1355.4,959.6 L1355.5,958.4 L1355.7,955.2 L1356.1,954.1 L1356.6,954.1 L1356.7,953.3 L1357.2,951.6 L1357.2,946.7 L1358.1,947.0 L1358.2,944.4 L1358.4,943.0 L1358.2,939.9 L1358.1,941.4 L1358.1,937.2 L1358.3,935.2 L1358.4,935.6 L1358.5,932.7 L1359.1,931.8 L1358.7,930.2 L1359.4,928.9 L1358.8,926.7 L1359.5,925.8 L1359.1,922.2 L1359.5,919.9 L1359.7,920.9 L1359.4,919.4 L1359.9,915.4 L1359.8,914.9 L1359.8,913.3 L1360.0,909.2 L1360.3,907.5 L1360.3,906.9 L1360.2,906.2 L1360.1,904.0 L1360.6,904.1 L1360.4,902.6 L1361.0,899.4 L1360.5,896.6 L1360.6,894.3 L1360.7,895.0 L1361.0,893.4 L1361.1,890.7 L1361.2,889.1 L1361.1,887.5 L1361.0,886.4 L1361.5,884.6 L1361.2,883.1 L1361.8,881.4 L1361.3,878.5 L1361.8,877.1 L1361.4,873.8 L1362.2,873.3 L1362.3,872.7 L1362.5,871.7 L1362.7,869.0 L1363.9,864.8 L1365.3,863.6 L1366.3,864.2 L1367.6,864.4 L1368.6,860.0 L1370.3,860.9 L1370.1,857.0 L1370.7,857.6 L1371.3,856.7 L1371.6,853.7 L1372.1,852.6 L1372.9,849.0 L1373.2,846.5 L1373.6,844.6 L1374.3,844.2 L1374.5,841.2 L1375.3,840.8 L1375.6,841.2 L1375.8,836.6 L1376.5,835.1 L1377.0,833.3 L1378.1,833.7 L1379.1,830.2 L1379.6,828.2 L1380.5,826.3 L1380.8,827.4 L1381.5,825.3 L1381.4,821.8 L1382.0,820.8 L1382.1,817.9 L1382.2,817.9 L1382.8,816.1 L1383.0,813.0 L1383.2,811.9 L1383.0,812.1 L1383.9,810.3 L1383.4,806.4 L1384.4,803.9 L1384.6,801.8 L1384.7,800.6 L1384.6,798.7 L1384.8,799.2 L1385.7,796.1 L1385.9,795.8 L1385.6,795.2 L1386.4,790.6 L1386.2,790.7 L1386.6,788.4 L1386.9,786.4 L1387.8,783.1 L1388.1,782.6 L1388.1,780.2 L1388.3,778.6 L1389.1,777.1 L1389.6,775.3 L1389.7,775.0 L1390.5,772.8 L1390.9,773.3 L1391.9,768.9 L1392.2,769.8 L1392.3,765.8 L1392.8,764.1 L1393.5,761.6 L1394.0,761.3 L1394.0,759.5 L1394.8,759.1 L1395.2,756.8 L1395.9,755.7 L1396.1,754.8 L1396.2,751.3 L1397.1,749.7 L1397.1,747.9 L1397.3,746.3 L1397.6,746.9 L1398.7,743.8 L1398.9,740.8 L1399.0,739.7 L1399.3,737.4 L1400.2,738.3 L1399.8,740.2 L1400.1,741.1 L1400.4,742.6 L1400.8,743.0 L1400.8,743.4 L1400.7,748.4 L1401.2,749.0 L1401.0,749.3 L1401.0,752.9 L1401.1,754.5 L1401.4,755.4 L1401.3,757.7 L1401.6,759.2 L1401.8,759.3 L1402.1,761.1 L1402.1,763.6 L1402.0,765.4 L1401.9,765.9 L1402.3,770.3 L1402.4,770.4 L1402.3,773.2 L1402.9,769.1 L1402.8,768.5 L1403.2,768.3 L1402.6,766.8 L1403.3,763.2 L1402.9,763.2 L1403.1,759.0 L1403.3,757.1 L1403.6,758.2 L1403.4,755.2 L1404.2,753.3 L1403.9,752.8 L1404.3,750.2 L1403.9,749.7 L1404.2,747.7 L1404.2,745.4 L1404.4,743.2 L1404.3,741.5 L1404.8,739.2 L1404.6,737.0 L1404.8,737.8 L1404.9,738.0 L1404.9,741.7 L1405.6,742.7 L1405.4,742.7 L1405.7,746.7 L1405.4,746.8 L1405.7,748.8 L1405.8,751.5 L1406.2,752.1 L1406.1,755.3 L1406.4,755.4 L1406.2,759.2 L1406.7,761.1 L1406.8,760.5 L1406.5,762.1 L1406.8,765.4 L1407.0,766.2 L1407.3,769.4 L1407.3,767.7 L1407.4,771.1 L1407.4,774.3 L1407.9,771.2 L1407.7,769.4 L1408.1,768.0 L1408.1,766.9 L1407.7,764.2 L1408.2,763.6 L1408.5,762.3 L1408.2,758.1 L1408.8,756.2 L1408.3,754.6 L1408.8,755.5 L1409.0,751.1 L1409.0,752.0 L1409.2,747.7 L1409.3,747.5 L1409.6,748.0 L1409.2,745.9 L1409.6,742.1 L1410.0,739.1 L1409.6,738.5 L1409.7,737.0 L1410.0,737.4 L1410.1,737.7 L1410.1,737.6 L1410.6,742.5 L1410.3,744.1 L1410.2,743.3 L1410.6,746.2 L1410.8,747.6 L1410.8,749.8 L1410.8,752.3 L1411.2,754.4 L1411.1,752.8 L1411.3,756.3 L1411.3,758.1 L1411.8,758.7 L1411.9,760.4 L1411.9,764.1 L1412.3,764.4 L1412.3,766.1 L1412.1,766.2 L1411.9,770.2 L1412.1,772.7 L1412.3,773.4 L1412.7,772.9 L1412.7,770.7 L1413.0,768.5 L1412.8,765.3 L1412.8,765.7 L1413.0,764.3 L1413.0,759.5 L1413.8,760.4 L1413.7,757.2 L1414.0,754.9 L1413.6,754.9 L1414.1,750.7 L1414.3,748.9 L1414.0,748.2 L1414.1,747.6 L1414.1,745.8 L1414.4,745.5 L1414.4,743.5 L1415.1,741.6 L1414.5,738.3 L1415.1,736.5 L1415.2,737.6 L1415.2,738.9 L1415.3,743.0 L1415.2,744.6 L1415.3,746.8 L1416.1,748.9 L1415.9,750.7 L1415.8,749.9 L1416.1,753.4 L1415.9,755.8 L1416.6,755.8 L1416.5,758.0 L1416.3,757.7 L1417.0,760.1 L1416.6,764.1 L1416.6,766.1 L1417.4,766.5 L1417.5,767.3 L1416.9,770.2 L1417.3,770.6 L1417.7,772.0 L1417.8,770.1 L1417.4,768.9 L1417.6,768.2 L1418.2,766.5 L1418.1,765.0 L1418.2,761.2 L1418.4,759.8 L1418.5,758.2 L1418.5,757.4 L1418.4,757.0 L1419.1,753.4 L1419.2,752.3 L1419.0,752.8 L1418.9,748.3 L1419.0,749.5 L1419.4,746.3 L1419.5,743.2 L1419.7,741.7 L1419.7,741.4 L1419.8,738.5 L1419.7,736.9 L1420.5,738.7 L1420.7,741.4 L1421.0,741.2 L1421.1,744.7 L1421.2,746.7 L1421.5,747.1 L1421.3,748.4 L1421.6,749.7 L1421.7,753.2 L1421.8,756.4 L1422.1,756.8 L1422.7,758.6 L1422.4,760.7 L1423.0,760.6 L1422.8,765.1 L1423.5,765.4 L1423.5,767.9 L1423.8,769.5 L1423.6,771.6 L1425.1,772.9 L1426.1,772.0 L1427.8,772.6 L1428.5,775.5 L1429.7,775.4 L1430.0,773.2 L1430.8,772.0 L1430.9,772.9 L1430.9,769.3 L1431.4,768.7 L1431.4,767.0 L1431.6,763.2 L1432.0,764.0 L1432.2,759.4 L1432.0,758.7 L1432.6,759.5 L1432.4,757.0 L1433.2,755.6 L1433.3,754.2 L1433.6,752.3 L1433.5,749.7 L1434.0,748.9 L1433.8,747.4 L1434.2,749.5 L1434.0,751.1 L1434.7,752.9 L1434.9,751.8 L1434.5,753.5 L1434.7,756.0 L1435.4,757.9 L1435.4,760.3 L1435.6,760.9 L1435.6,764.1 L1435.9,766.4 L1435.5,766.0 L1436.2,768.7 L1436.2,769.2 L1436.5,772.8 L1436.4,771.3 L1436.3,773.0 L1436.6,777.8 L1436.8,778.7 L1436.8,779.4 L1437.4,777.8 L1437.1,777.1 L1437.3,773.4 L1437.5,774.1 L1437.9,772.3 L1438.0,768.5 L1438.2,766.6 L1438.0,765.4 L1438.2,766.8 L1438.7,762.3 L1438.9,762.1 L1438.7,759.6 L1438.9,760.1 L1438.8,758.6 L1438.9,756.3 L1438.9,753.4 L1439.8,750.4 L1439.8,749.8 L1439.6,747.4 L1439.9,745.1 L1440.0,746.4 L1440.5,746.2 L1440.4,749.9 L1440.5,748.4 L1440.9,751.5 L1440.8,752.8 L1440.8,755.5 L1441.1,756.8 L1441.1,759.9 L1441.6,759.5 L1441.7,759.9 L1441.6,764.0 L1441.9,764.8 L1442.0,768.2 L1441.7,769.3 L1441.9,769.3 L1442.6,773.4 L1442.5,772.0 L1442.2,775.3 L1442.9,776.2 L1442.7,778.9 L1442.8,781.0 L1443.1,778.5 L1443.4,778.5 L1443.6,776.2 L1444.0,772.9 L1444.0,772.5 L1443.7,769.1 L1444.4,768.6 L1444.2,767.8 L1444.5,763.6 L1444.4,764.8 L1444.6,762.6 L1444.7,759.3 L1445.1,757.5 L1445.7,758.5 L1445.4,753.8 L1445.4,755.1 L1445.8,751.0 L1445.8,748.5 L1446.1,751.2 L1446.2,755.1 L1446.8,753.8 L1447.0,756.4 L1447.1,758.8 L1446.8,759.2 L1447.2,762.5 L1447.5,763.4 L1447.4,765.8 L1448.1,765.9 L1447.8,768.2 L1447.9,770.3 L1448.0,772.5 L1448.5,774.3 L1449.0,774.1 L1448.6,775.4 L1449.0,776.3 L1449.9,777.3 L1450.7,774.3 L1451.1,771.5 L1452.3,771.9 L1452.8,770.2 L1453.3,769.1 L1454.8,770.9 L1455.9,769.7 L1457.1,772.7 L1458.7,771.4 L1459.7,774.0 L1461.3,775.7 L1461.6,775.1 L1462.4,776.3 L1463.5,779.5 L1464.1,781.7 L1464.8,782.1 L1465.8,783.1 L1466.5,786.6 L1467.1,785.6 L1467.8,789.5 L1468.8,791.5 L1469.7,792.3 L1470.7,793.2 L1471.5,792.6 L1472.4,796.1 L1472.9,795.8 L1474.4,798.4 L1474.9,798.5 L1475.7,799.6 L1477.3,802.7 L1477.8,804.5 L1478.5,805.4 L1479.7,807.3 L1480.6,805.5 L1481.0,807.5 L1481.8,808.7 L1482.8,812.1 L1483.5,811.6 L1483.7,813.3 L1484.5,816.8 L1485.4,817.1 L1486.2,818.2 L1487.0,819.6 L1487.4,823.4 L1488.4,822.0 L1489.0,823.5 L1489.4,826.6 L1490.7,829.0 L1491.2,830.4 L1492.2,831.7 L1493.2,832.2 L1493.9,836.7 L1494.3,838.2 L1494.9,839.8 L1495.7,839.4 L1496.9,840.9 L1497.7,843.4 L1498.4,843.5 L1499.5,845.2 L1500.7,845.9 L1501.5,848.7 L1502.6,848.9 L1503.2,850.4 L1504.5,853.3 L1505.4,856.4 L1506.5,857.8 L1507.3,858.5 L1507.9,857.4 L1509.3,858.7 L1510.1,863.0 L1510.8,862.7 L1511.9,863.9 L1512.6,868.6 L1513.5,866.4 L1515.0,869.1 L1515.6,872.4 L1516.3,871.0 L1517.7,872.5 L1518.8,875.0 L1519.6,878.1 L1520.6,877.7 L1521.0,877.7 L1522.3,880.7 L1523.0,880.6 L1524.5,881.2 L1525.4,885.2 L1525.9,887.8 L1526.7,888.3 L1527.9,890.2 L1528.1,889.0 L1529.4,890.9 L1529.8,893.0 L1531.2,896.3 L1530.9,896.6 L1531.4,900.0 L1531.5,898.5 L1532.1,902.4 L1532.1,903.6 L1532.0,904.3 L1532.3,908.7 L1532.7,907.3 L1532.6,909.2 L1533.1,912.2 L1533.4,914.6 L1533.1,915.6 L1533.3,918.4 L1533.7,919.2 L1534.2,921.7 L1534.4,918.3 L1534.6,918.4 L1535.2,914.5 L1534.9,914.6 L1535.9,911.5 L1535.8,909.8 L1536.4,910.3 L1536.6,908.0 L1536.5,904.0 L1537.3,905.9 L1537.0,900.6 L1538.0,899.7 L1538.1,897.9 L1538.3,902.4 L1538.3,904.0 L1538.3,902.7 L1538.6,906.8 L1539.3,909.3 L1539.6,907.9 L1539.6,909.5 L1540.1,911.0 L1540.4,915.7 L1540.6,914.0 L1540.8,917.8 L1540.9,919.3 L1541.2,921.4 L1540.9,917.7 L1541.4,917.9 L1541.4,915.7 L1541.7,915.4 L1542.6,914.1 L1542.4,911.0 L1542.7,910.1 L1542.9,907.6 L1543.5,908.1 L1543.4,904.1 L1544.3,903.9 L1544.3,905.8 L1545.0,905.5 L1545.5,908.5 L1546.7,909.4 L1546.5,911.5 L1547.2,910.4 L1548.1,914.2 L1548.6,915.1"/>
<path stroke="#00bb00" stroke-width="11.2" d="M104.0,447.3 L105.8,447.6 L107.1,448.2 L109.4,446.7 L110.6,447.3 L112.5,449.1 L114.2,448.6 L115.7,448.1 L117.9,448.1 L119.5,447.7 L120.7,448.1 L122.8,448.3 L124.1,447.1 L126.2,448.5 L128.2,448.1 L129.9,448.0 L131.5,447.2 L133.3,447.3 L134.4,448.5 L136.2,446.9 L138.0,449.2 L139.6,448.5 L141.4,448.4 L143.2,448.2 L145.2,449.0 L146.9,449.5 L148.6,450.1 L149.7,449.8 L152.0,450.5 L153.4,450.8 L154.8,450.5 L156.8,451.0 L158.1,449.9 L160.5,451.5 L162.0,449.8 L163.2,450.8 L165.4,450.5 L166.5,452.0 L168.2,451.4 L170.1,451.7 L172.3,452.2 L174.0,451.3 L175.0,450.9 L176.7,451.6 L178.7,450.7 L180.2,451.8 L182.4,450.4 L184.2,451.1 L185.4,452.6 L187.2,451.6 L189.0,452.1 L190.7,451.9 L192.3,453.0 L194.1,451.7 L195.5,451.3 L197.4,453.2 L198.7,452.2 L200.8,451.9 L202.5,451.0 L203.8,452.5 L205.8,452.6 L207.4,452.7 L209.4,452.9 L210.6,451.2 L213.0,452.9 L214.3,451.9 L215.9,452.6 L217.6,452.0 L219.6,451.9 L221.1,451.6 L222.6,452.7 L224.9,452.1 L226.2,451.4 L228.0,452.5 L229.8,450.9 L231.3,452.1 L233.2,451.1 L235.0,452.2 L236.6,452.2 L238.7,450.8 L240.2,452.1 L241.7,450.4 L243.5,451.0 L245.7,451.6 L247.0,450.0 L249.0,451.4 L250.6,451.4 L252.2,449.6 L253.9,451.0 L255.7,449.7 L257.3,449.6 L258.8,450.7 L261.0,448.2 L262.7,450.1 L264.3,448.8 L265.4,449.8 L267.6,449.1 L269.0,448.7 L270.5,447.5 L272.0,447.2 L273.8,447.8 L275.3,448.2 L277.4,448.2 L279.2,448.0 L280.6,447.7 L282.4,445.3 L283.7,445.5 L285.5,446.5 L287.5,445.6 L288.7,445.9 L290.8,444.8 L292.4,445.3 L293.7,444.9 L295.9,445.3 L297.6,444.3 L299.4,446.2 L300.5,445.9 L302.9,445.3 L304.2,443.8 L306.1,444.3 L307.8,444.6 L309.2,445.4 L311.0,443.6 L312.7,443.7 L315.0,445.8 L316.5,443.5 L318.1,444.0 L320.1,444.0 L321.6,444.6 L323.3,443.5 L325.2,443.3 L326.8,444.7 L328.4,443.0 L330.4,444.0 L331.9,445.2 L333.8,445.4 L335.3,444.6 L337.2,445.0 L338.9,444.9 L340.3,445.2 L342.3,445.6 L343.8,444.6 L345.8,445.6 L347.1,447.1 L349.1,447.2 L350.6,445.8 L352.5,445.6 L354.3,447.1 L355.8,447.7 L357.4,447.8 L359.1,446.5 L360.5,446.5 L362.1,448.7 L363.9,447.2 L365.6,449.4 L367.8,447.5 L369.5,448.0 L371.2,449.7 L372.7,450.6 L374.0,450.5 L376.0,450.7 L377.4,450.8 L379.7,451.1 L380.9,449.9 L382.8,451.6 L383.9,451.3 L385.8,451.8 L387.3,453.5 L388.8,453.0 L390.5,453.5 L392.1,453.3 L393.6,456.0 L395.0,455.9 L397.1,456.2 L398.5,456.6 L400.1,456.6 L401.4,458.1 L403.4,456.6 L404.8,459.1 L406.6,458.5 L407.8,458.4 L409.6,459.0 L410.9,459.9 L413.1,461.4 L414.5,460.9 L416.2,461.8 L417.3,462.8 L418.7,462.4 L420.6,463.6 L422.2,463.4 L424.1,464.3 L425.8,464.4 L427.1,465.8 L428.9,466.4 L430.2,467.8 L432.0,467.4 L433.3,468.8 L435.3,469.0 L436.3,468.8 L438.3,468.7 L440.1,470.3 L441.1,471.2 L442.7,470.0 L444.6,470.5 L446.4,472.6 L447.9,471.6 L449.2,472.2 L450.5,473.7 L452.7,472.6 L453.9,473.6 L455.7,474.8 L457.2,473.6 L459.0,474.9 L460.7,474.6 L462.3,476.8 L463.8,476.0 L465.9,475.6 L467.7,475.4 L468.8,477.6 L470.7,478.0 L472.7,477.8 L474.4,476.9 L476.1,478.0 L477.8,477.3 L479.4,479.3 L480.7,478.5 L482.6,478.4 L484.5,479.0 L485.8,478.6 L487.8,478.8 L489.7,477.6 L490.8,478.8 L492.5,479.5 L494.6,478.0 L496.1,478.7 L497.7,478.8 L499.2,478.0 L501.3,477.4 L502.8,479.1 L504.3,479.0 L506.0,477.9 L507.5,479.4 L509.3,478.5 L511.0,479.1 L512.8,478.1 L514.7,478.6 L516.4,478.1 L517.7,477.5 L519.2,477.5 L521.4,479.2 L522.6,477.7 L524.7,478.3 L526.4,479.3 L527.6,478.7 L529.4,477.8 L531.4,477.6 L532.9,476.3 L534.4,477.3 L536.8,476.9 L538.1,476.8 L540.0,475.3 L542.0,475.1 L543.2,474.7 L545.1,474.7 L546.7,473.0 L548.2,470.4 L549.4,470.9 L550.8,469.5 L552.3,467.6 L553.7,466.1 L555.1,466.6 L556.9,465.3 L557.7,465.1 L559.4,463.9 L560.5,461.1 L561.6,460.6 L563.6,460.4 L564.7,461.3 L565.3,463.7 L566.7,465.5 L567.9,467.2 L568.8,468.1 L570.3,469.8 L571.3,470.7 L572.7,471.3 L573.8,470.5 L575.3,471.2 L576.9,472.2 L578.3,474.4 L579.7,474.5 L581.0,474.0 L582.5,474.9 L584.3,473.2 L584.6,472.5 L585.4,469.7 L587.0,470.2 L588.7,468.8 L590.4,470.7 L592.3,469.9 L594.0,469.3 L595.8,469.8 L597.5,468.8 L598.1,470.8 L598.1,472.1 L598.8,474.7 L598.8,476.9 L599.4,477.8 L601.4,477.6 L602.3,478.8 L604.0,479.6 L605.8,480.1 L607.2,479.0 L609.0,480.6 L610.8,480.9 L612.3,481.4 L613.9,479.9 L615.9,481.1 L617.2,479.7 L619.5,480.3 L620.5,479.8 L622.2,478.2 L623.9,478.3 L626.0,477.8 L627.4,479.7 L629.3,479.6 L631.3,479.0 L632.3,479.1 L634.4,477.3 L635.7,478.6 L638.0,476.8 L639.3,476.1 L641.2,476.4 L642.6,477.7 L644.7,477.3 L646.2,477.6 L647.8,477.8 L649.4,476.6 L651.3,477.6 L652.7,476.4 L654.7,477.6 L656.3,477.6 L657.8,477.1 L659.4,477.7 L661.6,477.2 L662.8,477.7 L665.1,476.7 L666.8,477.8 L668.2,478.4 L670.1,478.5 L671.5,477.2 L673.2,476.5 L674.7,478.7 L676.4,477.8 L678.5,476.6 L679.7,477.0 L681.9,476.7 L683.1,477.8 L685.5,476.9 L686.9,476.9 L688.7,477.4 L690.4,477.9 L691.7,477.7 L693.3,476.8 L695.0,478.4 L697.3,476.4 L699.0,476.8 L700.3,476.6 L702.3,476.9 L703.9,477.9 L705.7,478.3 L707.2,477.2 L708.5,477.5 L710.6,478.4 L712.0,478.4 L713.9,477.7 L715.3,478.2 L717.3,477.5 L719.1,477.0 L720.7,478.9 L722.5,479.0 L724.1,478.1 L725.8,480.4 L727.3,479.2 L729.1,478.9 L731.2,481.0 L733.1,481.1 L734.8,480.7 L736.1,480.7 L738.2,482.0 L739.6,482.3 L741.3,482.1 L743.4,482.9 L745.1,481.4 L746.2,481.4 L748.0,483.0 L749.7,483.2 L751.3,482.7 L752.5,484.0 L754.1,484.9 L755.2,486.6 L756.7,485.7 L757.9,487.2 L759.9,487.2 L761.5,487.7 L762.9,487.4 L763.8,484.9 L765.4,483.8 L766.9,483.4 L768.6,482.0 L769.7,480.9 L771.4,481.5 L772.7,479.7 L774.2,481.0 L776.3,478.7 L777.8,479.7 L779.5,477.8 L781.4,480.1 L783.4,480.8 L784.5,480.6 L786.2,477.2 L788.2,478.0 L790.0,476.0 L791.6,475.9 L793.5,477.1 L794.7,478.3 L796.4,476.9 L798.2,480.4 L799.9,482.4 L801.0,479.2 L803.0,482.6 L804.6,481.7 L805.8,482.4 L807.2,480.5 L809.5,483.9 L810.7,486.1 L812.7,485.1 L814.0,486.5 L815.5,484.4 L816.9,483.3 L819.2,486.4 L820.4,485.4 L822.2,484.0 L823.8,486.7 L825.3,487.6 L827.3,483.2 L829.2,483.7 L831.0,486.3 L832.0,484.7 L834.1,484.3 L835.6,483.6 L837.8,484.9 L839.3,480.8 L840.9,482.3 L842.9,485.6 L844.0,483.8 L845.7,485.4 L847.9,481.8 L849.1,481.2 L851.3,485.2 L852.6,480.9 L854.1,480.5 L856.5,480.1 L857.6,478.9 L859.1,479.7 L861.3,482.0 L862.9,484.1 L864.1,484.1 L866.5,480.7 L867.6,479.4 L869.3,482.2 L870.8,482.7 L873.1,480.8 L874.7,480.3 L876.4,480.6 L877.8,483.9 L879.1,480.6 L879.5,482.8 L880.3,477.4 L880.0,480.1 L880.7,478.9 L880.7,473.4 L881.6,471.7 L881.3,469.2 L881.6,466.6 L883.8,468.3 L884.9,466.8 L887.1,472.7 L888.1,473.3 L890.0,470.2 L891.2,471.9 L892.1,471.7 L894.0,472.9 L895.3,476.6 L896.6,475.5 L898.0,476.3 L899.1,479.7 L901.1,479.1 L901.9,481.6 L903.8,483.3 L905.0,478.2 L906.6,478.5 L908.5,483.6 L910.0,483.0 L912.2,477.5 L914.0,482.6 L915.4,482.0 L916.7,482.6 L918.7,481.2 L920.5,478.7 L922.1,479.9 L923.7,480.3 L925.6,480.3 L927.5,484.4 L929.2,483.7 L931.0,480.1 L932.0,480.0 L934.2,481.6 L935.8,480.3 L937.7,479.6 L939.1,480.4 L941.0,480.7 L942.5,483.3 L944.2,479.5 L945.8,476.8 L947.7,481.6 L949.5,476.2 L951.2,478.0 L952.4,477.6 L954.6,478.5 L956.2,477.5 L957.5,479.0 L959.3,476.1 L960.9,476.4 L963.0,477.8 L964.1,477.0 L966.0,474.7 L967.5,477.3 L969.4,473.9 L970.8,475.3 L973.2,477.0 L974.8,477.0 L976.5,479.0 L977.9,479.6 L979.4,478.1 L981.3,479.5 L983.4,476.9 L984.5,475.7 L986.5,479.2 L987.8,474.5 L989.5,476.3 L991.3,479.4 L993.2,475.9 L994.9,477.4 L996.7,478.3 L998.0,477.0 L1000.2,480.6 L1001.7,474.9 L1003.8,479.3 L1004.7,474.8 L1006.7,477.6 L1008.7,480.3 L1010.1,476.7 L1012.2,478.4 L1013.5,476.0 L1015.4,475.3 L1017.3,475.0 L1018.7,478.2 L1020.1,475.4 L1022.3,478.0 L1023.6,478.5 L1025.5,481.4 L1026.9,478.6 L1029.1,477.2 L1030.5,476.4 L1032.1,479.2 L1034.2,479.8 L1035.7,480.1 L1036.9,477.7 L1038.8,478.6 L1040.9,477.6 L1042.6,477.8 L1043.7,480.6"/>
<path stroke="#00bb00" stroke-width="12.3" d="M1036.9,477.7 L1038.8,478.6 L1040.9,477.6 L1042.6,477.8 L1043.7,480.6 L1045.6,480.6 L1047.0,478.0 L1048.7,477.5 L1050.2,480.1 L1050.9,483.0 L1052.3,482.6 L1053.5,483.0 L1055.1,484.5 L1055.9,486.1 L1057.4,486.8 L1058.0,486.7 L1058.9,485.8 L1060.0,484.2 L1060.9,480.9 L1061.6,480.3 L1062.5,479.7 L1062.9,477.6 L1064.4,477.5 L1065.7,476.0 L1067.6,474.9 L1068.6,476.2 L1070.8,476.4 L1072.4,474.2 L1073.4,474.4 L1075.1,475.7 L1076.9,476.2 L1078.4,474.2 L1080.0,477.5 L1081.9,476.7 L1083.2,476.7 L1085.0,477.6 L1086.1,476.5 L1088.0,479.1 L1089.9,477.7 L1091.2,480.4 L1093.1,481.2 L1094.2,480.6 L1096.1,478.0 L1097.5,481.2 L1099.3,480.5 L1100.9,479.9 L1102.3,481.4 L1103.6,480.9 L1105.0,482.9 L1105.9,483.5 L1107.1,484.8 L1108.1,487.5 L1109.6,486.7 L1110.8,488.4 L1111.7,489.5 L1113.2,492.4 L1113.7,495.2 L1114.3,494.8 L1115.3,495.8 L1116.0,499.9 L1117.2,501.4 L1117.9,500.9 L1118.7,504.4 L1119.8,504.3 L1120.4,504.4 L1121.7,508.9 L1122.8,509.3 L1123.6,508.1 L1124.2,512.0 L1125.7,512.2 L1126.5,513.1 L1127.4,513.8 L1128.2,515.6 L1129.5,517.3 L1130.1,520.1 L1131.0,521.2 L1131.9,523.0 L1133.1,523.3 L1133.6,524.0 L1135.1,524.5 L1136.1,525.9 L1137.2,528.4 L1138.0,531.0 L1138.5,530.5 L1140.3,530.3 L1141.3,530.7 L1143.2,526.8 L1144.1,528.1 L1145.2,527.1 L1147.3,526.4 L1148.6,526.6 L1150.6,524.8 L1151.9,527.7 L1153.0,525.7 L1154.3,530.0 L1155.8,530.1 L1156.4,532.1 L1157.3,533.8 L1158.9,533.6 L1159.4,534.5 L1160.1,537.5 L1160.3,540.8 L1160.9,541.7 L1161.4,543.4 L1161.7,544.4 L1162.2,544.3 L1162.5,548.1 L1162.9,547.5 L1163.3,548.6 L1163.8,552.0 L1164.0,553.7 L1164.2,553.1 L1164.6,555.9 L1164.8,558.5 L1165.3,560.8 L1165.6,562.1 L1165.6,563.2 L1165.5,564.0 L1166.1,567.5 L1166.6,566.5 L1166.6,570.0 L1166.4,571.1 L1166.6,574.9 L1167.5,574.1 L1167.3,574.8 L1167.3,577.8 L1167.5,581.2 L1167.5,579.4 L1167.7,581.0 L1167.9,586.1 L1167.7,584.6 L1167.6,587.2 L1167.5,588.9 L1167.8,589.9 L1168.0,591.5 L1168.0,593.0 L1167.4,595.2 L1167.8,599.1 L1167.8,600.8 L1167.5,602.0 L1167.8,603.8 L1167.4,606.6 L1168.0,604.9 L1167.8,609.9 L1167.9,610.7 L1167.9,611.2 L1167.6,613.7 L1168.1,614.2 L1167.9,615.7 L1167.9,617.4 L1168.2,620.6 L1168.1,623.4 L1168.2,622.2 L1168.2,623.3 L1168.7,627.0 L1168.5,627.3 L1168.6,628.4 L1168.8,631.7 L1169.2,634.8 L1169.2,634.4 L1169.6,634.9 L1169.5,639.3 L1169.6,640.9 L1169.7,640.6 L1170.1,642.1 L1170.3,645.5 L1170.5,645.1 L1170.3,648.2 L1170.5,650.0 L1170.6,650.5 L1171.0,653.9 L1170.8,656.6 L1171.4,658.1 L1171.7,659.1 L1171.8,658.6 L1171.6,663.2 L1172.5,663.7 L1172.7,664.3 L1172.7,668.3 L1172.8,667.1 L1173.2,671.4 L1173.5,671.1 L1173.7,675.2 L1174.5,673.3 L1174.3,676.2 L1174.5,680.4 L1175.3,678.6 L1175.0,680.9 L1175.3,685.3 L1175.7,686.9 L1175.9,686.2 L1176.4,688.9 L1176.7,690.0 L1177.2,691.3 L1177.4,695.5 L1177.2,696.7 L1177.6,696.2 L1178.4,697.5 L1178.7,702.1 L1178.4,702.5 L1178.6,703.7 L1179.0,707.2 L1179.8,706.5 L1180.1,707.9 L1180.2,710.0 L1180.6,710.9 L1180.5,713.7 L1181.0,716.4 L1180.8,716.5 L1181.0,719.4 L1181.4,722.2 L1181.6,721.2 L1181.8,722.6 L1182.1,726.0 L1182.2,726.8 L1182.8,729.1 L1183.0,730.5 L1182.7,732.4 L1183.5,732.8 L1183.3,735.7 L1183.9,737.5 L1183.7,738.6 L1183.7,740.3 L1184.2,742.6 L1184.4,744.1 L1184.8,745.7 L1185.2,746.2 L1185.3,747.6 L1185.5,749.5 L1185.2,751.5 L1186.0,754.3 L1186.2,757.1 L1185.8,759.3 L1186.0,758.6 L1186.5,761.7 L1187.0,763.4 L1187.1,766.0 L1187.2,767.2 L1187.7,765.8 L1187.3,767.5 L1187.6,772.0 L1187.6,773.0 L1188.4,773.0 L1188.4,774.0 L1188.4,779.1 L1189.0,779.9 L1189.2,781.2 L1188.9,783.2 L1189.5,782.9 L1189.5,787.6 L1189.6,787.7 L1190.0,790.4 L1190.4,790.8 L1190.7,791.0 L1191.0,795.2 L1190.7,794.9 L1191.4,796.1 L1191.3,798.8 L1191.7,800.8 L1191.6,801.7 L1192.2,805.1 L1191.9,805.0 L1192.6,809.1 L1192.5,809.5 L1192.8,812.6 L1192.7,811.3 L1193.3,813.5 L1193.8,815.3 L1193.6,818.0 L1194.0,819.7 L1194.1,821.3 L1194.3,822.6 L1194.3,825.4 L1194.6,826.9 L1194.6,828.8 L1195.1,829.1 L1195.1,831.6 L1195.3,831.6 L1195.8,834.4 L1195.7,833.9 L1196.5,836.3 L1196.4,839.0 L1196.7,840.1 L1196.8,843.8 L1196.8,842.3 L1196.7,845.9 L1197.1,848.8 L1197.5,848.5 L1197.6,851.3 L1197.7,854.1 L1197.6,853.8 L1198.0,856.3 L1198.1,857.9 L1198.1,857.5 L1198.3,859.8 L1198.8,864.2 L1199.1,863.5 L1198.8,866.7 L1199.1,868.9 L1199.2,871.5 L1199.4,870.4 L1200.0,874.4 L1199.7,874.9 L1200.3,876.1 L1200.6,876.3 L1200.8,881.0 L1200.7,882.2 L1200.6,884.9 L1200.7,884.0 L1201.4,885.2 L1201.5,886.6 L1201.8,889.4 L1201.8,892.5 L1201.5,894.5 L1201.9,894.0 L1202.3,896.3 L1202.5,899.8 L1202.7,901.7 L1202.7,901.2 L1203.1,904.4 L1202.9,904.7 L1203.0,907.3 L1203.0,910.1 L1203.5,910.9 L1203.8,910.8 L1204.2,913.6 L1204.1,916.9 L1204.5,918.6 L1204.6,917.6 L1204.9,921.9 L1204.7,923.3 L1205.0,922.8 L1205.3,924.6 L1205.5,927.7 L1205.3,928.6 L1205.7,932.4 L1205.8,932.1 L1206.1,934.0 L1206.0,936.0 L1206.6,939.5 L1206.3,940.4 L1206.8,939.9 L1206.9,944.0 L1207.4,943.3 L1207.5,946.2 L1208.0,948.1 L1208.6,949.9 L1208.6,952.9 L1209.6,952.9 L1209.8,954.9 L1210.3,954.4 L1211.7,952.9 L1212.4,950.8 L1213.2,949.7 L1214.3,948.1 L1215.6,948.4 L1215.9,944.9 L1216.0,942.8 L1216.6,940.2 L1216.8,940.9 L1217.1,936.5 L1217.2,934.5 L1217.2,934.6 L1218.1,932.7 L1218.0,931.7 L1218.3,930.8 L1218.6,929.4 L1219.4,924.5 L1219.1,922.7 L1219.3,923.7 L1220.2,921.1 L1220.1,919.6 L1220.7,918.5 L1220.9,916.1 L1221.0,913.4 L1221.7,914.3 L1221.3,908.8 L1221.9,908.0 L1221.7,906.3 L1221.9,906.8 L1222.3,906.0 L1222.8,904.0 L1223.0,899.6 L1222.8,898.8 L1223.3,895.7 L1223.2,896.0 L1223.4,895.4 L1223.5,892.2 L1224.3,890.2 L1224.0,889.1 L1224.5,886.4 L1224.9,884.9 L1225.1,882.4 L1225.3,882.9 L1225.0,880.2 L1225.6,877.9 L1225.4,875.6 L1226.2,876.9 L1226.3,875.5 L1226.5,872.7 L1226.5,871.6 L1226.2,868.9 L1226.6,865.9 L1226.6,865.7 L1227.1,866.0 L1227.6,863.4 L1227.7,859.8 L1227.4,860.9 L1228.0,856.0 L1228.2,857.3 L1228.2,853.8 L1228.1,851.0 L1228.6,850.5 L1228.9,847.6 L1229.1,845.7 L1229.2,844.8 L1229.5,845.4 L1229.4,842.4 L1229.7,840.0 L1229.9,837.6 L1229.5,837.9 L1229.8,837.5 L1229.9,832.5 L1230.1,830.7 L1230.7,831.6 L1230.8,829.7 L1230.8,828.7 L1230.6,825.4 L1231.0,822.8 L1231.2,821.3 L1231.3,820.1 L1231.4,819.3 L1231.3,816.1 L1231.4,816.5 L1232.1,814.8 L1232.3,812.0 L1232.4,811.2 L1232.4,809.2 L1232.1,808.1 L1232.5,805.8 L1232.7,804.0 L1233.0,804.0 L1232.6,802.0 L1233.1,799.9 L1232.8,799.1 L1233.7,794.5 L1233.6,793.6 L1233.5,792.8 L1233.8,790.5 L1234.0,790.9 L1233.9,788.5 L1234.3,786.6 L1234.7,785.0 L1234.9,780.8 L1234.6,781.2 L1234.6,778.9 L1235.3,776.4 L1235.5,776.6 L1235.1,772.8 L1235.6,771.9 L1235.6,771.6 L1236.0,770.0 L1236.3,766.6 L1236.3,764.1 L1236.1,762.9 L1236.6,762.3 L1236.6,761.2 L1237.1,760.8 L1236.7,756.1 L1237.2,757.5 L1237.2,752.6 L1237.3,753.2 L1237.9,750.3 L1238.0,748.5 L1238.3,749.2 L1238.3,746.3 L1238.5,743.4 L1238.7,743.0 L1238.9,740.7 L1239.1,738.0 L1238.7,739.3 L1239.6,734.8 L1239.7,732.5 L1239.3,732.8 L1239.4,731.3 L1239.8,730.5 L1240.4,729.1 L1240.2,724.4 L1240.6,722.8 L1240.3,720.9 L1241.1,719.3 L1240.8,718.2 L1241.2,717.3 L1241.6,715.5 L1241.5,713.5 L1241.6,713.8 L1242.3,709.4 L1242.6,708.2 L1242.5,708.5 L1242.6,704.8 L1243.1,705.2 L1243.1,701.4 L1243.9,699.3 L1243.9,697.2 L1244.2,697.4 L1244.3,695.2 L1244.9,692.3 L1245.0,693.3 L1245.5,689.1 L1245.2,687.2 L1246.0,687.1 L1245.7,685.2 L1246.0,685.0 L1246.8,680.8 L1246.9,680.9 L1247.3,676.4 L1247.0,676.0 L1248.1,675.8 L1248.2,671.3 L1248.5,673.0 L1249.3,669.0 L1249.8,667.9 L1250.2,667.9 L1250.1,665.6 L1250.8,663.9 L1251.2,661.5 L1251.3,659.1 L1251.8,659.8 L1252.7,655.1 L1252.9,655.0 L1252.9,652.7 L1253.8,651.0 L1254.3,649.1 L1254.8,647.6 L1255.0,645.4 L1255.3,643.6 L1256.0,643.4 L1256.4,641.8 L1257.0,639.3 L1257.4,639.9 L1258.5,636.4 L1258.6,635.3 L1259.0,635.3 L1259.5,630.3 L1260.6,629.8 L1260.7,627.5 L1261.1,627.9 L1262.2,623.3 L1262.7,622.1 L1263.4,620.8 L1263.9,622.0 L1264.7,618.3 L1264.9,618.4 L1265.7,615.1 L1266.3,614.7 L1266.9,613.7 L1267.6,613.2 L1268.1,609.0 L1268.8,607.2 L1269.9,608.7 L1271.3,605.7 L1272.1,606.4 L1272.7,602.2 L1273.6,601.9 L1274.5,600.0 L1275.9,598.2 L1276.6,598.3 L1277.7,596.4 L1278.2,595.9 L1279.9,595.6 L1281.7,592.7 L1282.6,593.3 L1284.0,589.5 L1285.4,590.2 L1286.9,587.9 L1288.4,587.5 L1289.9,588.4 L1291.8,589.4 L1293.5,586.4 L1295.4,586.1 L1296.8,590.6 L1297.3,590.8 L1298.3,590.4 L1299.7,592.1 L1300.6,591.9 L1301.7,594.7 L1301.8,597.9 L1301.9,598.7 L1302.5,599.8 L1302.6,599.9 L1302.6,603.3 L1303.4,604.0 L1303.1,606.1 L1303.6,607.5 L1303.8,609.6 L1303.9,611.0 L1304.5,613.4 L1304.7,613.4 L1305.3,615.9 L1304.9,620.0 L1305.3,620.8 L1305.8,620.2 L1305.9,624.9 L1306.2,625.5 L1306.2,626.9 L1306.5,628.9 L1306.2,631.4 L1306.6,630.5 L1306.6,633.7 L1307.1,636.4 L1307.0,637.4 L1306.9,639.1 L1307.1,641.2 L1307.6,643.2 L1307.4,642.5 L1307.8,645.4 L1307.7,647.4 L1308.1,649.8 L1308.5,649.8 L1308.5,652.1 L1308.7,652.6 L1308.7,653.3 L1308.8,658.1 L1309.5,656.9 L1309.5,659.8 L1309.8,662.3 L1310.1,663.0 L1310.3,663.5 L1310.3,666.4 L1310.6,668.1 L1310.7,670.0 L1311.1,671.5 L1310.8,675.0 L1311.6,676.7 L1311.2,676.3 L1312.0,680.7 L1312.0,679.4 L1311.8,684.2 L1312.1,685.3 L1312.6,686.9 L1312.6,687.4 L1313.3,689.7 L1313.1,690.0 L1313.5,690.9 L1314.2,696.1 L1314.4,697.4 L1314.5,696.1 L1315.1,700.9 L1315.3,702.7 L1315.6,703.3 L1315.6,705.7 L1315.8,704.0 L1316.1,705.6 L1316.3,709.5 L1316.5,709.8 L1317.3,711.9 L1318.0,714.4 L1318.0,714.0 L1318.9,715.6 L1319.2,719.4 L1319.1,721.7 L1319.8,723.7 L1320.3,724.3 L1320.7,726.3 L1321.1,726.1 L1321.5,729.5 L1321.7,728.9 L1321.9,732.1 L1322.5,733.8 L1322.7,735.5 L1324.2,733.6 L1325.4,735.4 L1326.5,731.2 L1328.6,732.9 L1329.8,731.7 L1331.0,729.9 L1333.2,729.0 L1334.4,726.4 L1335.5,730.3 L1336.3,729.8 L1337.9,732.8 L1338.6,734.8 L1340.0,735.7 L1341.0,735.7 L1341.3,737.4 L1342.3,737.5 L1342.5,742.1 L1343.4,741.0 L1344.3,743.2 L1344.9,744.7 L1345.4,747.8 L1346.2,750.6 L1346.8,751.0 L1346.8,752.3 L1347.7,756.1 L1347.9,756.3 L1348.2,758.3 L1348.8,757.9 L1348.9,762.9 L1349.5,764.9 L1350.3,766.7 L1350.3,765.6 L1351.2,769.6 L1351.2,770.9 L1351.7,771.5 L1352.1,774.2 L1352.4,773.8 L1352.5,778.0 L1352.6,775.9 L1353.1,780.0 L1353.6,782.7 L1353.5,783.5 L1354.1,784.5 L1354.3,787.8 L1354.1,787.0 L1353.9,791.5 L1354.1,789.7 L1354.3,794.0 L1354.7,795.6 L1354.3,797.7 L1354.9,799.0 L1355.1,800.8 L1355.8,799.9 L1356.6,798.8 L1357.2,794.5 L1358.1,796.3 L1359.4,793.2 L1360.2,792.7 L1361.2,793.1 L1362.2,792.8 L1363.6,794.3 L1364.5,796.9 L1365.7,798.5 L1366.9,798.6 L1368.2,799.9 L1369.6,802.7 L1370.8,803.3 L1372.4,802.3 L1373.0,800.8 L1374.3,800.8 L1374.5,799.7 L1376.2,797.4 L1376.6,797.6 L1377.5,793.4 L1378.4,794.5 L1379.4,793.6 L1380.7,791.3 L1381.5,788.2 L1382.3,788.2 L1383.5,786.4 L1384.2,786.6 L1385.4,782.1 L1386.3,782.3 L1387.1,782.1 L1388.0,779.0 L1388.7,776.2 L1389.4,775.6 L1390.6,775.3 L1390.7,774.5 L1392.0,770.7 L1392.0,768.0 L1393.4,766.4 L1393.7,766.5 L1394.6,763.3 L1394.9,765.1 L1395.3,763.1 L1395.5,759.1 L1396.0,757.4 L1396.4,756.0 L1397.5,753.0 L1398.0,754.5 L1398.2,750.9 L1398.9,750.0 L1399.2,747.4 L1400.0,746.7 L1399.8,744.2 L1400.8,742.8 L1401.0,740.2 L1401.0,738.4 L1401.3,738.6 L1402.0,736.3 L1402.4,734.4 L1402.4,734.5 L1403.1,732.5 L1403.3,730.2 L1403.8,728.4 L1403.8,727.3 L1404.4,725.4 L1404.9,723.1 L1405.1,720.9 L1405.5,720.2 L1406.0,717.1 L1406.3,715.2 L1406.9,714.9 L1407.5,714.9 L1407.9,710.8 L1408.0,710.1 L1408.7,706.8 L1408.7,705.9 L1409.0,704.6 L1409.4,702.9 L1409.8,702.3 L1410.5,701.5 L1410.4,700.6 L1411.0,698.0 L1411.1,696.5 L1411.7,692.8 L1411.7,693.0 L1411.8,691.4 L1412.9,690.3 L1412.8,689.4 L1413.8,686.7 L1414.1,683.0 L1414.3,681.6 L1414.9,679.4 L1415.6,681.0 L1416.4,679.2 L1417.1,675.3 L1417.9,676.8 L1418.4,673.2 L1419.4,672.3 L1420.5,672.9 L1421.1,675.8 L1422.1,675.4 L1423.1,678.8 L1423.5,680.2 L1423.3,682.4 L1423.7,684.0 L1423.5,684.2 L1424.0,686.0 L1423.9,689.1 L1423.9,690.0 L1424.4,691.9 L1424.9,694.3 L1425.1,693.2 L1425.3,695.3 L1424.9,700.2 L1425.0,699.2 L1425.5,703.3 L1425.5,705.2 L1425.5,704.6 L1425.2,706.3 L1425.5,708.2 L1425.4,709.5 L1425.6,712.2 L1425.3,713.5 L1425.3,715.6 L1425.0,718.0 L1425.0,717.5 L1425.6,720.1 L1425.5,722.6 L1425.6,725.6 L1425.2,724.8 L1425.2,727.5 L1425.1,729.4 L1425.5,730.3 L1425.1,731.5 L1425.2,735.1 L1425.5,737.4 L1425.4,739.1 L1425.2,739.2 L1425.7,739.3 L1425.1,741.6 L1425.4,746.1 L1425.7,746.4 L1425.2,748.7 L1425.5,748.7 L1425.2,751.9 L1425.4,751.9 L1425.7,752.9 L1425.2,756.9 L1425.5,758.3 L1425.4,758.1 L1425.4,762.6 L1425.3,764.0 L1425.6,766.8 L1425.1,766.8 L1425.1,767.7 L1425.2,769.7 L1425.3,770.7 L1425.3,772.0 L1425.2,775.1 L1425.8,777.0 L1425.8,779.4 L1425.6,778.7 L1425.8,780.9 L1425.7,783.6 L1425.2,786.4 L1425.8,785.5 L1425.5,790.0 L1425.2,788.6 L1425.7,793.3 L1425.7,793.4 L1425.2,796.8 L1425.9,798.2 L1425.8,800.4 L1425.6,800.5 L1425.8,800.9 L1425.5,804.7 L1425.3,804.1 L1425.9,807.2 L1425.9,809.1 L1425.4,809.7 L1425.4,811.6 L1425.5,815.5 L1425.7,815.4 L1425.9,817.6 L1425.9,820.2 L1425.5,820.9 L1426.0,822.7 L1425.7,826.3 L1425.3,826.3 L1425.7,829.4 L1425.4,829.4 L1425.8,831.3 L1425.5,832.2 L1425.6,834.9 L1425.3,834.6 L1425.8,837.8 L1425.3,839.5 L1425.4,840.7 L1425.5,844.4 L1425.5,846.9 L1425.3,845.6 L1425.7,848.5 L1425.8,851.3 L1425.3,852.1 L1425.5,855.3 L1425.4,854.3 L1425.8,857.4 L1425.5,858.0 L1425.8,858.6 L1425.4,863.0 L1425.9,862.9 L1425.4,866.4 L1425.9,869.2 L1425.6,869.8 L1425.7,872.5 L1426.1,872.9 L1425.5,875.4 L1425.5,874.4 L1426.0,876.0 L1425.7,879.4 L1425.8,880.4 L1425.9,882.4 L1426.0,884.0 L1426.0,887.4 L1425.5,888.7 L1426.0,889.2 L1425.8,890.6 L1426.0,891.8 L1425.7,893.9 L1425.5,897.5 L1425.7,896.1 L1427.9,897.8 L1428.4,895.9 L1428.5,896.1 L1427.9,894.0 L1428.2,890.7 L1428.4,887.6 L1428.4,886.9 L1428.1,886.7 L1428.2,883.7 L1427.9,881.5 L1428.0,880.6 L1428.5,878.3 L1428.2,878.5 L1428.5,874.0 L1428.0,873.2 L1428.6,873.4 L1428.3,869.7 L1428.3,870.5 L1428.0,866.7 L1428.6,863.7 L1428.1,865.1 L1428.1,862.7 L1428.2,861.4 L1428.3,859.5 L1428.4,855.4 L1428.0,855.9 L1428.2,851.8 L1428.7,852.8 L1428.6,850.0 L1428.2,849.3 L1428.6,846.6 L1428.4,845.0 L1428.1,844.2 L1428.4,841.5 L1428.5,840.2 L1428.4,837.4 L1428.1,836.4 L1428.7,836.0 L1428.3,833.4 L1428.4,830.9 L1428.2,829.2 L1428.3,829.8 L1428.5,825.2 L1428.3,822.7 L1428.7,823.1 L1428.1,820.4 L1428.1,821.3 L1428.5,817.5 L1428.3,818.0 L1428.3,813.4 L1428.2,812.2 L1428.5,812.5 L1428.3,810.1 L1428.8,808.2 L1428.8,804.8 L1428.6,803.3 L1428.5,804.1 L1428.4,802.4 L1428.8,798.8 L1428.2,797.7 L1428.5,794.2 L1428.2,793.3 L1428.4,793.4 L1428.4,792.0 L1428.5,787.5 L1428.8,788.3 L1428.4,785.6 L1428.4,783.7 L1428.2,781.4 L1428.9,778.4 L1428.4,779.6 L1428.2,777.3 L1428.7,776.4 L1428.5,774.2 L1428.8,771.4 L1428.3,769.3 L1428.9,766.8 L1428.3,765.7 L1428.3,765.1 L1428.8,762.9 L1428.6,760.4 L1428.9,761.4 L1428.3,759.5 L1428.7,758.2 L1429.0,753.3 L1429.0,751.5 L1428.3,749.4 L1428.7,749.4 L1428.9,748.1 L1428.8,744.6 L1429.0,743.7 L1428.8,743.2 L1429.0,739.5 L1428.5,738.4 L1428.9,737.2 L1428.7,735.2 L1428.5,734.5 L1428.6,731.0 L1428.8,731.5 L1428.8,727.9 L1428.9,728.6 L1428.4,724.4 L1428.9,725.8 L1428.9,721.3 L1428.8,720.8 L1428.9,718.2 L1428.7,716.6 L1428.9,714.7 L1428.6,715.1 L1428.6,710.3 L1428.7,711.2 L1429.0,706.6 L1428.5,706.6 L1428.8,706.1 L1429.0,704.8 L1429.1,703.0 L1429.0,699.6 L1429.2,698.3 L1429.4,695.5 L1429.8,693.3 L1429.8,692.0 L1430.3,692.9 L1430.2,691.3 L1430.9,686.6 L1431.0,685.8 L1430.9,684.5 L1431.3,683.3 L1431.5,682.6 L1431.7,678.5 L1432.2,676.6 L1432.1,675.2 L1432.3,675.1 L1432.9,674.6 L1432.9,670.7 L1433.3,670.5 L1433.5,668.4 L1433.9,666.4 L1434.1,666.0 L1434.2,663.8 L1434.5,660.1 L1434.7,660.9 L1435.3,656.6 L1435.7,656.5 L1435.8,652.5 L1435.9,653.1 L1436.7,649.0 L1436.8,646.9 L1438.0,645.9 L1438.3,644.9 L1439.3,643.9 L1439.4,640.3 L1440.3,640.1 L1440.8,637.3 L1441.2,637.3 L1441.8,634.7 L1442.7,635.4 L1444.1,630.9 L1445.0,629.7 L1446.3,628.5 L1446.7,627.8 L1447.8,624.8 L1449.4,625.9 L1450.6,624.4 L1451.9,624.2 L1453.7,621.5 L1454.6,623.5 L1456.1,624.6 L1457.1,623.8 L1458.4,626.7 L1459.8,626.2 L1460.8,626.3 L1462.3,630.3 L1463.6,630.2 L1465.5,628.8 L1467.3,629.4 L1468.3,632.5 L1470.4,629.0 L1471.7,631.3 L1473.0,628.2 L1475.1,630.3 L1476.4,629.2 L1478.1,628.2 L1479.9,628.5 L1481.2,628.3 L1483.0,627.4 L1484.1,630.0 L1486.0,629.1 L1487.1,626.9 L1488.2,630.5 L1489.3,628.9 L1490.6,632.9 L1491.6,631.0 L1492.8,634.2 L1494.2,634.0 L1494.3,637.8 L1494.8,638.1 L1495.6,638.6 L1496.2,641.2 L1496.4,645.1 L1497.0,644.6 L1497.3,647.1 L1498.0,648.4 L1499.0,649.0 L1499.2,652.9 L1499.9,652.2 L1500.6,655.1 L1500.6,657.8 L1501.4,659.9 L1502.1,660.0 L1502.1,661.6 L1503.0,662.2 L1503.1,664.7 L1503.8,665.6 L1504.0,668.2 L1504.1,672.3 L1504.3,671.5 L1504.4,674.8 L1504.1,677.6 L1504.7,677.3 L1504.3,678.7 L1504.8,679.5 L1505.2,682.2 L1504.9,682.8 L1505.2,687.3 L1505.4,689.5 L1507.5,689.6 L1509.1,689.6 L1510.9,687.8 L1510.9,685.4 L1511.1,684.9 L1511.0,682.7 L1511.3,683.3 L1511.5,679.6 L1512.0,678.2 L1512.0,678.0 L1511.9,676.3 L1512.0,672.8 L1512.0,673.1 L1512.6,668.5 L1512.3,666.8 L1512.7,665.7 L1512.7,664.3 L1512.8,662.2 L1513.1,659.8 L1513.0,658.3 L1513.7,659.4 L1513.6,655.5 L1513.3,652.7 L1514.2,652.7 L1513.9,649.4 L1513.7,650.5 L1514.0,648.0 L1514.5,647.0 L1514.6,645.9 L1514.6,641.2 L1514.5,641.3 L1514.7,638.3 L1514.8,637.5 L1514.8,637.9 L1514.9,635.9 L1515.2,633.6 L1515.3,630.8 L1515.3,628.1 L1515.4,627.6 L1517.3,628.7 L1518.8,627.2 L1519.8,624.9 L1522.0,624.0 L1523.6,625.0 L1524.5,625.0 L1526.3,627.0 L1527.4,626.9 L1528.6,627.3 L1529.2,631.1 L1528.8,631.0 L1529.1,634.3 L1529.2,635.5 L1529.6,634.5 L1529.8,636.3 L1529.5,638.2 L1529.5,639.2 L1529.6,643.3 L1529.7,642.9 L1530.1,644.2 L1530.4,646.6 L1530.3,650.0 L1530.8,652.7 L1530.8,651.9 L1530.5,655.1 L1530.4,657.1 L1531.2,658.4 L1531.1,660.0 L1531.0,661.8 L1531.0,661.4 L1531.5,663.9 L1531.7,667.8 L1531.7,667.4 L1531.1,671.3 L1531.3,671.6 L1531.6,671.5 L1531.5,675.7 L1531.8,675.9 L1531.6,678.5 L1531.6,678.7 L1532.4,681.0 L1532.4,682.2 L1532.5,685.7 L1532.0,688.0 L1532.7,687.9 L1532.8,690.9 L1532.9,690.2 L1532.9,693.3 L1532.7,695.7 L1532.5,697.2 L1533.3,700.4 L1533.2,701.0 L1533.2,703.0 L1533.4,702.8 L1533.7,707.3 L1533.2,708.3 L1533.4,708.1 L1534.0,710.8 L1533.9,712.7 L1533.7,713.6 L1534.4,714.7 L1534.2,718.8 L1534.0,719.7 L1533.9,718.8 L1534.2,720.4 L1534.6,725.9 L1535.8,722.3 L1537.3,720.9 L1539.1,720.7 L1539.1,719.0 L1539.2,719.1 L1539.8,715.5 L1539.8,714.4 L1540.0,712.7 L1539.8,709.9 L1539.9,711.5 L1540.0,708.9 L1540.2,705.1 L1540.1,704.7 L1540.5,703.3 L1540.9,700.9 L1540.7,701.2 L1541.1,697.2 L1541.0,697.3 L1541.0,695.0 L1541.3,693.7 L1541.2,692.5 L1541.8,687.7 L1541.9,688.0 L1542.0,686.9 L1542.2,683.7 L1541.9,683.0 L1541.8,679.6 L1542.1,678.1 L1542.4,676.9 L1542.5,677.6 L1542.2,674.8 L1542.7,673.3 L1542.7,672.0 L1542.9,669.8 L1543.0,668.7 L1543.4,667.2 L1543.2,664.4 L1543.4,663.4 L1543.8,662.8 L1543.7,659.3 L1544.0,656.1 L1543.4,656.4 L1544.2,652.4 L1545.6,654.8 L1546.8,652.7 L1548.9,652.3"/>
<path stroke="#0000ff" stroke-width="11.2" d="M104.2,501.3 L106.0,501.7 L107.7,501.6 L109.1,499.8 L110.9,502.0 L112.2,501.9 L114.0,500.8 L116.0,501.0 L117.4,499.6 L119.7,500.3 L120.8,501.5 L122.5,501.5 L124.2,501.1 L126.5,499.5 L127.7,500.0 L129.9,501.9 L131.6,500.2 L133.1,500.8 L135.0,499.9 L136.8,501.1 L138.0,501.6 L139.6,500.2 L141.2,499.7 L143.3,500.1 L145.1,499.3 L146.5,500.1 L148.4,501.3 L150.1,500.0 L151.4,501.0 L153.1,501.6 L155.5,501.0 L157.1,499.2 L158.7,500.1 L160.0,499.1 L162.4,499.5 L163.9,499.6 L165.8,501.4 L167.0,499.9 L169.1,500.3 L170.7,499.3 L172.5,501.0 L174.3,499.1 L175.5,499.2 L177.7,500.5 L179.4,499.8 L180.6,500.2 L182.3,499.7 L183.9,499.0 L186.3,500.5 L187.3,499.2 L189.3,501.3 L190.8,499.8 L193.0,500.2 L194.4,499.9 L196.5,498.9 L197.8,498.8 L199.3,500.8 L201.6,500.5 L203.2,500.2 L204.6,498.9 L206.6,499.0 L208.1,499.3 L210.1,501.1 L211.5,501.0 L213.4,499.7 L214.8,499.7 L216.4,499.5 L218.7,499.4 L220.1,500.8 L221.6,499.7 L223.3,498.6 L225.4,500.3 L227.1,499.3 L228.7,500.3 L230.5,500.0 L232.1,499.2 L233.7,499.0 L235.5,500.2 L237.4,499.0 L239.3,500.1 L241.3,498.8 L242.6,500.6 L243.8,502.4 L244.9,504.1 L245.9,504.6 L247.2,506.8 L248.3,507.1 L249.3,509.6 L250.6,511.1 L251.4,511.2 L252.8,511.6 L253.7,514.8 L255.0,515.4 L255.4,517.0 L256.5,518.6 L257.3,519.7 L258.4,521.1 L259.2,522.6 L259.6,522.6 L260.8,525.1 L261.6,526.0 L262.0,528.5 L263.0,529.6 L263.7,530.0 L264.6,532.2 L265.4,533.3 L266.5,535.5 L267.6,537.3 L268.8,537.9 L269.3,538.8 L270.2,540.9 L271.5,542.0 L271.8,544.1 L272.8,546.2 L273.9,547.5 L275.3,549.1 L275.8,551.1 L276.9,552.6 L277.4,553.0 L278.7,555.0 L279.9,557.4 L280.3,558.0 L281.0,560.2 L282.3,559.7 L282.9,562.4 L284.4,563.9 L285.0,564.7 L285.8,565.8 L286.8,569.2 L288.1,570.6 L288.5,571.2 L289.6,573.6 L290.2,573.7 L291.1,576.6 L291.8,576.3 L292.6,577.4 L293.1,579.6 L294.3,582.0 L294.8,581.5 L295.8,583.6 L296.1,586.4 L296.7,586.6 L297.6,589.9 L298.4,590.4 L299.3,592.0 L299.7,593.7 L300.5,595.2 L301.3,596.1 L302.2,597.0 L302.8,598.9 L303.7,601.0 L304.2,600.7 L305.4,603.2 L305.9,605.8 L306.8,605.1 L307.4,607.6 L308.2,609.8 L309.1,610.7 L309.5,611.9 L310.0,614.5 L311.3,614.6 L312.0,615.5 L312.4,618.6 L313.4,619.0 L313.7,622.1 L314.7,622.5 L315.3,624.0 L316.2,624.6 L316.6,627.7 L317.9,627.7 L318.5,630.6 L319.6,630.0 L320.9,633.6 L321.3,634.2 L322.5,635.8 L324.1,636.6 L324.6,638.1 L326.3,638.3 L327.1,639.2 L327.9,641.1 L328.9,642.9 L330.2,642.9 L331.0,644.1 L332.6,646.6 L333.2,648.7 L334.5,648.8 L335.9,650.3 L337.1,652.2 L338.6,651.1 L339.9,652.4 L341.4,654.4 L342.5,655.6 L343.7,655.9 L345.1,657.0 L346.0,658.7 L347.4,659.1 L348.6,661.4 L350.2,662.4 L351.5,661.9 L352.4,663.0 L353.8,665.3 L355.6,666.8 L357.4,666.1 L358.9,666.1 L360.1,667.0 L362.1,669.9 L363.2,668.9 L365.2,671.5 L366.4,671.8 L368.1,672.1 L369.7,671.9 L371.3,673.5 L372.7,673.7 L374.8,674.4 L376.3,674.0 L378.0,673.7 L379.7,672.6 L381.3,672.6 L382.7,670.6 L384.3,670.5 L386.3,671.8 L387.6,671.1 L390.0,669.9 L391.3,669.9 L392.7,669.1 L394.4,667.9 L396.3,668.1 L397.8,669.0 L399.5,667.0 L401.1,666.0 L402.8,665.5 L404.7,664.3 L406.2,664.5 L407.6,664.5 L409.3,663.3 L410.7,661.7 L412.2,661.4 L413.4,661.8 L414.8,659.8 L416.4,659.2 L418.7,658.9 L419.7,658.1 L421.2,657.6 L423.1,657.6 L424.3,655.5 L426.4,656.0 L427.5,655.3 L428.6,655.0 L430.6,651.7 L431.4,651.5 L433.5,650.8 L434.4,649.7 L435.5,647.6 L437.2,648.6 L438.3,647.6 L439.7,644.9 L440.9,644.2 L442.4,642.9 L443.4,642.0 L445.4,640.3 L446.3,639.7 L447.5,639.3 L448.6,637.5 L450.0,636.5 L451.2,637.2 L452.1,635.7 L453.5,632.3 L454.6,632.2 L455.8,630.6 L457.2,630.1 L458.0,627.8 L458.9,627.7 L460.1,624.6 L461.6,623.3 L462.4,623.8 L463.4,620.7 L464.5,619.7 L466.1,618.8 L466.7,617.0 L467.8,616.8 L469.1,614.2 L470.0,613.3 L471.2,612.1 L472.5,611.6 L473.6,610.6 L474.6,609.0 L475.9,606.8 L477.1,606.0 L477.9,604.9 L479.1,602.4 L479.7,601.3 L480.8,599.2 L482.5,598.8 L483.4,598.0 L485.2,598.3 L486.2,595.5 L487.8,594.9 L489.7,595.8 L490.5,594.3 L492.0,593.0 L493.1,591.8 L495.1,591.6 L496.0,591.0 L497.4,589.7 L499.0,589.2 L500.6,588.9 L501.7,585.9 L503.2,587.0 L504.7,585.1 L506.6,585.2 L508.1,584.0 L509.0,583.4 L510.7,583.2 L512.7,580.6 L513.9,579.9 L515.6,580.3 L516.7,579.3 L518.2,578.3 L519.9,579.4 L521.5,580.1 L523.1,579.4 L525.2,581.3 L526.6,581.3 L527.9,580.5 L529.8,581.8 L530.7,581.1 L532.2,582.5 L532.9,585.8 L534.1,586.8 L535.6,587.8 L536.7,588.9 L537.2,589.5 L538.8,591.1 L539.3,591.8 L539.6,593.7 L540.5,595.2 L541.4,597.1 L542.3,598.4 L542.9,601.0 L543.3,602.2 L544.0,603.4 L544.5,604.4 L545.1,606.7 L545.8,607.0 L547.1,607.8 L548.4,610.4 L549.2,612.0 L550.2,613.8 L551.1,614.5 L552.2,616.2 L553.0,618.3 L553.6,619.2 L554.0,620.9 L554.6,621.2 L555.0,624.5 L555.9,626.3 L556.1,626.4 L556.4,628.1 L557.1,630.5 L557.1,632.8 L556.9,633.2 L557.4,635.6 L557.4,637.4 L557.5,639.5 L557.7,639.7 L558.3,642.2 L558.3,642.8 L558.2,645.9 L558.6,645.9 L559.0,649.5 L558.8,650.9 L559.1,651.8 L559.1,654.7 L559.5,654.9 L559.4,658.3 L559.5,657.6 L560.0,660.7 L559.8,661.4 L560.3,664.2 L560.5,666.1 L560.5,666.3 L561.0,669.9 L561.1,670.3 L561.3,672.9 L561.3,673.5 L561.3,676.8 L561.2,676.6 L561.3,678.5 L561.8,680.2 L562.1,681.8 L562.3,685.1 L562.4,687.0 L562.7,689.0 L562.9,689.9 L562.4,690.3 L562.6,692.0 L563.0,694.4 L563.3,696.9 L563.2,697.1 L563.4,700.0 L563.7,700.6 L564.0,699.6 L564.5,698.2 L564.2,697.6 L564.9,695.4 L564.8,692.5 L565.3,691.2 L566.0,690.2 L565.8,687.6 L566.4,686.1 L566.6,685.1 L566.7,682.2 L567.1,681.9 L567.4,678.1 L567.8,676.9 L567.8,674.8 L568.3,673.1 L568.6,673.6 L569.1,670.5 L568.9,668.1 L568.8,668.2 L569.3,666.4 L569.4,662.9 L569.7,662.4 L569.6,660.8 L570.5,658.4 L570.3,657.3 L570.3,654.8 L570.8,655.3 L570.6,652.5 L571.3,650.6 L571.3,649.0 L571.6,648.6 L571.3,646.2 L572.1,643.0 L572.3,642.4 L572.5,641.7 L572.8,639.0 L572.9,638.3 L573.0,635.1 L573.4,634.1 L573.1,633.8 L573.5,630.7 L573.9,629.1 L574.1,627.9 L574.7,625.0 L575.0,623.1 L575.8,623.4 L575.5,620.0 L576.5,619.9 L576.3,617.6 L577.2,615.0 L576.9,615.1 L577.6,611.5 L578.2,610.0 L578.5,608.6 L578.7,606.3 L579.2,606.7 L579.1,602.8 L580.6,603.1 L581.9,601.4 L583.5,600.9 L584.5,599.1 L585.7,598.1 L585.7,600.9 L586.4,601.9 L586.7,602.4 L586.8,605.0 L587.3,607.2 L587.3,607.4 L587.5,609.0 L587.5,611.4 L588.1,612.9 L588.7,615.4 L588.7,616.4 L589.3,618.9 L589.6,621.1 L589.2,621.1 L589.4,624.4 L590.0,624.8 L589.9,626.7 L590.0,629.4 L590.6,630.1 L590.4,630.7 L590.8,633.3 L590.8,634.3 L590.7,635.6 L591.0,637.9 L591.2,641.2 L591.8,641.1 L591.6,643.9 L592.0,645.8 L592.2,646.4 L592.1,647.7 L592.4,651.0 L592.4,652.7 L592.4,652.5 L593.0,655.7 L592.8,655.5 L593.3,659.2 L593.1,657.7 L593.4,655.3 L593.9,653.9 L593.8,652.0 L593.9,651.2 L594.5,647.3 L594.2,645.7 L594.8,644.9 L595.0,644.3 L595.1,640.6 L594.9,640.9 L595.2,639.0 L595.2,636.2 L595.7,635.6 L595.9,634.3 L595.9,630.8 L596.6,629.4 L596.1,627.6 L596.3,626.3 L596.8,624.8 L596.7,623.6 L597.1,620.7 L597.2,620.3 L597.6,618.3 L597.3,615.5 L597.6,614.7 L597.7,613.9 L597.7,611.6 L598.2,610.2 L597.8,607.2 L598.1,605.4 L598.1,605.3 L598.5,602.9 L598.2,602.0 L598.5,599.8 L598.9,596.4 L598.9,596.5 L599.3,592.8 L599.2,591.9 L599.0,591.0 L599.2,588.5 L599.1,586.0 L599.5,585.8 L599.4,584.4 L600.0,581.4 L600.9,581.3 L601.2,579.5 L601.7,575.9 L601.9,574.6 L602.6,573.8 L603.3,571.0 L604.1,571.4 L604.0,568.6 L604.5,567.7 L605.7,565.7 L607.2,565.5 L608.1,562.8 L609.8,561.7 L610.4,560.0 L612.1,558.9 L613.0,557.2 L614.0,557.1 L615.7,556.2 L617.0,553.8 L618.9,555.0 L620.8,553.1 L622.1,552.7 L623.9,551.3 L625.3,550.5 L627.0,551.0 L628.3,548.7 L630.3,549.4 L632.1,547.2 L633.1,546.6 L634.9,546.3 L636.9,547.4 L638.4,546.0 L640.0,545.7 L641.5,545.8 L643.5,545.1 L645.2,545.1 L646.7,545.4 L648.3,546.0 L650.3,546.3 L651.5,544.7 L653.0,545.9 L654.9,544.6 L656.3,545.8 L658.5,544.8 L659.6,544.7 L661.5,545.1 L663.4,544.6 L665.2,543.3 L666.5,543.8 L668.3,543.7 L670.0,543.4 L671.3,543.4 L672.8,542.3 L675.0,542.6 L676.0,542.3 L678.0,541.2 L679.3,539.7 L681.4,541.5 L683.0,539.2 L684.2,539.9 L685.7,539.5 L687.1,538.1 L689.2,538.7 L690.7,538.5 L692.2,537.3 L693.9,537.6 L695.8,536.7 L697.4,535.9 L698.7,534.5 L700.2,536.0 L701.8,533.5 L703.5,534.8 L705.4,533.6 L707.0,534.1 L708.3,533.1 L710.5,533.5 L712.2,532.7 L713.8,532.4 L715.3,532.6 L717.2,530.2 L718.3,532.3 L720.0,529.7 L721.7,529.4 L723.2,529.1 L725.0,528.5 L726.9,529.0 L728.1,528.8 L730.3,529.9 L731.4,528.7 L733.3,527.4 L734.6,526.9 L736.8,526.4 L738.5,526.5 L740.1,525.9 L741.9,525.8 L743.2,525.0 L745.0,524.1 L746.7,524.1 L748.0,522.5 L749.3,521.3 L751.1,521.2 L752.2,519.1 L753.4,519.8 L754.9,517.0 L755.9,516.8 L757.5,516.2 L759.5,515.4 L760.8,514.9 L763.2,515.6 L764.3,515.9 L765.8,515.7 L767.4,513.4 L769.5,512.7 L771.1,514.1 L772.7,513.9 L774.5,513.9 L775.8,512.3 L777.6,511.6 L779.1,512.5 L781.2,510.3 L782.6,508.7 L784.3,508.6 L785.4,509.4 L787.3,509.3 L789.2,506.9 L790.3,508.3 L791.8,507.2 L793.3,505.8 L795.5,505.8 L796.5,505.1 L798.3,505.1 L799.6,505.4 L801.4,505.1 L803.1,504.5 L804.3,506.1 L805.8,505.7 L807.4,511.6 L808.9,506.9 L810.3,513.1 L811.9,509.8 L813.8,511.8 L815.8,507.8 L817.3,509.1 L819.1,509.7 L820.4,506.9 L822.1,508.2 L823.9,511.4 L825.6,508.1 L827.4,511.2 L829.1,508.4 L830.6,509.3 L832.1,507.8 L834.4,507.7 L835.7,506.7 L837.5,508.5 L839.1,505.5 L840.5,509.0 L842.8,504.7 L843.9,509.7 L846.0,504.2 L847.8,505.3 L849.3,503.5 L850.9,504.2 L852.7,507.5 L854.7,508.3 L856.4,506.6 L857.8,503.6 L859.6,504.5 L861.4,503.2 L863.0,504.9 L864.8,508.6 L866.4,505.0 L867.5,508.9 L869.6,507.3 L870.9,505.4 L872.7,503.6 L874.3,508.5 L876.2,504.1 L877.8,505.3 L879.2,505.4 L880.0,501.1 L879.9,503.5 L880.5,500.8 L881.1,499.2 L881.0,499.4 L881.6,494.9 L882.2,492.1 L883.7,491.6 L885.5,493.3 L887.0,492.1 L889.2,498.5 L890.8,493.8 L891.8,493.6 L893.7,495.6 L894.4,497.4 L895.6,496.8 L897.3,503.9 L898.7,504.4 L899.5,504.5 L900.8,501.5 L902.0,501.9 L903.5,507.1 L905.1,502.5 L907.3,508.0 L909.0,507.2 L910.7,508.4 L912.5,504.9 L913.8,504.3 L915.9,504.1 L917.4,503.2 L919.4,504.1 L921.3,508.7 L923.1,507.3 L924.4,505.2 L926.0,503.3 L928.0,504.3 L929.2,504.7 L930.6,500.0 L932.4,502.2 L934.0,497.9 L935.6,498.8 L937.5,501.0 L939.2,498.0 L941.1,497.6 L942.6,497.1 L944.5,500.9 L946.4,499.6 L948.0,500.6 L949.4,497.1 L951.5,499.6 L953.4,497.3 L955.0,499.0 L956.4,501.4 L957.2,501.2 L958.4,504.4 L959.2,503.8 L960.4,503.6 L960.9,503.4 L962.1,500.9 L962.7,498.0 L964.0,502.2 L965.5,498.7 L966.8,495.1 L968.6,496.0 L970.1,501.0 L972.2,497.6 L973.4,499.5 L975.3,497.0 L977.1,501.5 L978.8,497.5 L980.3,499.1 L982.4,500.4 L984.0,499.3 L986.0,501.4 L987.0,500.5 L989.1,499.9 L990.9,498.9 L992.5,499.3 L994.2,501.1 L996.0,503.2 L997.7,502.0 L999.3,498.9 L1000.5,501.5 L1002.4,502.5 L1004.3,500.8 L1006.1,502.4 L1008.0,500.8 L1009.4,500.7 L1010.9,504.4 L1013.0,502.6 L1014.6,498.6 L1016.1,502.4 L1018.0,503.3 L1019.4,499.2 L1021.3,502.4 L1023.1,504.7 L1024.2,503.9 L1026.5,501.3 L1028.1,504.8 L1029.2,502.1 L1030.2,504.5 L1031.4,506.2 L1032.6,507.7 L1033.3,507.8 L1034.4,509.7 L1035.4,508.7 L1035.6,511.4 L1036.0,512.0 L1036.7,516.8 L1037.7,516.1 L1038.2,517.6 L1039.0,520.1 L1039.1,521.4 L1039.8,522.5 L1040.2,522.7 L1041.0,524.8 L1041.8,528.9"/>
<path stroke="#0000ff" stroke-width="12.3" d="M1039.1,521.4 L1039.8,522.5 L1040.2,522.7 L1041.0,524.8 L1041.8,528.9 L1041.7,529.0 L1042.3,530.4 L1042.3,532.8 L1042.8,534.6 L1043.6,534.8 L1043.7,536.3 L1044.2,540.5 L1044.4,542.6 L1044.6,544.5 L1045.2,546.0 L1045.5,544.2 L1046.2,549.7 L1046.7,550.4 L1046.7,549.2 L1047.5,552.6 L1047.4,556.0 L1048.1,557.9 L1048.1,556.9 L1048.9,559.0 L1049.1,560.8 L1049.7,564.3 L1050.3,563.5 L1050.5,564.9 L1050.7,566.0 L1051.4,571.1 L1051.9,570.9 L1052.2,573.1 L1052.3,573.6 L1052.7,573.9 L1053.0,577.0 L1053.7,579.7 L1054.1,579.6 L1054.4,582.3 L1055.0,585.3 L1055.1,583.9 L1055.9,588.8 L1056.4,588.1 L1057.0,588.8 L1057.2,593.9 L1057.4,592.1 L1058.0,596.8 L1058.1,596.0 L1058.6,597.1 L1058.8,599.2 L1059.4,603.6 L1059.5,603.7 L1059.9,604.0 L1059.8,608.5 L1059.9,610.2 L1060.2,612.2 L1060.8,613.7 L1061.0,615.4 L1060.9,613.7 L1061.6,617.6 L1061.2,619.4 L1061.7,619.7 L1061.9,620.7 L1062.3,623.8 L1062.6,624.5 L1063.0,628.8 L1063.6,629.7 L1063.8,628.6 L1063.6,630.6 L1064.3,634.7 L1064.3,636.0 L1064.6,638.1 L1064.7,637.7 L1064.9,639.1 L1065.8,644.0 L1065.7,643.4 L1066.3,644.8 L1066.1,647.3 L1066.9,650.5 L1066.9,648.9 L1067.4,651.2 L1067.5,653.4 L1068.1,654.8 L1068.4,657.2 L1068.8,659.5 L1069.2,662.2 L1069.9,663.2 L1070.1,664.1 L1070.5,666.4 L1070.7,665.7 L1070.8,667.2 L1071.4,670.9 L1071.6,670.8 L1072.4,671.5 L1072.7,674.4 L1073.5,677.4 L1073.4,679.2 L1073.9,682.0 L1074.7,682.1 L1075.4,682.7 L1075.7,685.6 L1076.3,685.5 L1076.6,687.8 L1076.9,691.2 L1077.4,691.1 L1079.3,693.4 L1080.9,690.9 L1082.3,691.1 L1083.9,688.4 L1084.6,688.6 L1084.9,688.5 L1085.4,686.3 L1085.3,683.2 L1085.6,681.4 L1086.0,680.8 L1086.6,676.6 L1086.7,676.5 L1086.9,674.9 L1086.8,673.3 L1087.6,669.9 L1087.4,669.0 L1088.2,669.1 L1088.4,667.4 L1089.1,663.3 L1089.4,662.1 L1089.6,662.4 L1090.2,658.2 L1090.7,659.6 L1090.9,658.8 L1091.4,656.3 L1091.8,654.1 L1092.4,651.2 L1093.1,651.1 L1094.7,650.7 L1096.7,650.4 L1098.0,650.0 L1099.6,651.6 L1101.0,649.7 L1102.9,651.5 L1104.3,653.2 L1105.2,655.0 L1106.5,654.4 L1107.3,656.9 L1108.1,658.9 L1109.7,658.7 L1110.2,661.3 L1111.5,662.2 L1111.8,664.4 L1112.6,665.0 L1112.8,667.9 L1113.1,667.2 L1113.6,670.0 L1114.1,672.4 L1115.2,671.5 L1115.5,674.3 L1115.6,675.4 L1117.6,674.7 L1119.0,673.3 L1120.2,675.2 L1121.7,672.1 L1121.8,672.9 L1122.1,668.6 L1122.3,669.8 L1122.2,665.0 L1122.3,665.2 L1122.8,661.1 L1123.1,660.4 L1123.4,658.0 L1123.5,658.7 L1123.9,656.7 L1124.2,655.8 L1124.4,653.6 L1124.3,652.6 L1125.1,648.2 L1124.7,649.3 L1125.4,647.9 L1125.8,646.0 L1125.6,642.5 L1126.3,642.3 L1126.3,639.5 L1127.1,637.4 L1126.8,636.1 L1127.6,636.4 L1127.3,631.6 L1127.8,632.0 L1128.3,629.3 L1128.5,626.9 L1128.5,624.9 L1128.9,624.6 L1129.0,624.2 L1129.3,622.6 L1129.5,618.8 L1130.4,617.0 L1130.5,615.6 L1130.7,616.3 L1130.8,611.6 L1130.9,609.9 L1131.1,609.0 L1131.6,608.7 L1131.7,605.5 L1131.9,603.3 L1132.1,602.8 L1132.5,601.5 L1132.8,600.9 L1133.5,599.6 L1133.3,598.2 L1133.7,596.6 L1134.0,594.8 L1134.3,591.8 L1134.8,591.1 L1135.5,589.9 L1135.4,586.5 L1136.1,584.3 L1136.7,583.1 L1137.0,580.0 L1137.8,581.8 L1138.1,579.4 L1138.8,577.5 L1138.8,576.6 L1139.6,573.8 L1139.8,572.4 L1141.0,570.3 L1142.4,569.8 L1143.6,570.7 L1144.0,569.3 L1145.4,564.7 L1147.4,568.0 L1149.0,566.1 L1150.9,566.4 L1151.6,567.7 L1151.3,569.7 L1151.5,573.0 L1152.1,575.6 L1152.3,577.5 L1152.2,578.7 L1152.5,579.2 L1153.1,580.8 L1153.2,582.7 L1152.8,585.2 L1153.4,585.3 L1153.3,589.2 L1153.6,588.9 L1153.8,591.4 L1154.2,594.9 L1154.0,594.1 L1154.0,596.7 L1154.0,597.9 L1154.6,600.7 L1154.5,603.3 L1154.5,603.0 L1154.3,605.3 L1154.6,607.0 L1154.6,607.3 L1154.8,611.5 L1154.6,611.2 L1154.8,614.1 L1154.8,614.5 L1155.0,616.6 L1154.9,620.1 L1155.1,620.5 L1154.9,622.6 L1155.5,622.7 L1155.5,623.9 L1155.5,626.1 L1155.4,628.5 L1156.1,629.0 L1155.6,630.2 L1155.9,634.5 L1156.3,634.1 L1156.0,638.8 L1156.3,639.4 L1156.6,642.2 L1156.7,643.5 L1156.7,642.2 L1156.6,646.0 L1157.4,645.3 L1157.4,646.8 L1157.6,641.8 L1157.9,643.6 L1157.9,640.8 L1158.5,638.8 L1158.1,636.5 L1159.0,633.5 L1159.2,633.9 L1158.9,630.0 L1159.3,630.4 L1159.4,627.8 L1160.1,627.2 L1160.1,625.4 L1160.3,622.7 L1160.5,620.9 L1161.2,619.2 L1160.8,618.7 L1161.6,616.5 L1161.9,613.5 L1161.5,614.1 L1162.1,611.2 L1162.5,609.0 L1163.0,608.8 L1163.0,607.3 L1163.5,605.3 L1164.1,601.2 L1164.1,601.1 L1164.6,600.6 L1165.3,598.1 L1165.4,595.1 L1165.5,594.3 L1166.4,592.6 L1166.2,591.6 L1166.8,589.9 L1167.2,587.0 L1167.9,588.5 L1168.6,590.1 L1168.7,591.3 L1169.3,593.0 L1170.6,596.6 L1170.6,596.4 L1171.7,599.7 L1171.9,598.7 L1172.4,601.3 L1173.2,601.7 L1173.2,603.0 L1173.5,606.6 L1174.1,609.5 L1173.8,610.2 L1174.0,612.3 L1174.2,614.4 L1174.6,615.4 L1174.8,617.1 L1174.5,617.4 L1175.3,619.2 L1174.9,619.6 L1175.2,622.4 L1175.2,626.3 L1175.2,625.0 L1175.9,627.6 L1176.0,629.7 L1176.0,631.6 L1175.9,632.9 L1176.5,636.7 L1176.2,635.1 L1176.6,639.5 L1176.8,641.0 L1177.0,640.4 L1176.6,642.3 L1177.2,646.1 L1177.0,646.0 L1177.1,649.4 L1177.7,650.0 L1177.8,650.4 L1177.9,655.0 L1177.4,654.2 L1177.5,656.7 L1177.9,660.3 L1178.0,661.6 L1178.5,662.0 L1178.1,662.3 L1178.6,666.9 L1179.0,668.4 L1178.9,670.1 L1179.0,671.7 L1179.0,671.4 L1179.4,675.9 L1179.6,674.2 L1180.2,676.4 L1180.7,673.0 L1181.4,672.0 L1182.2,670.0 L1182.7,670.0 L1183.3,667.9 L1183.7,664.3 L1184.1,663.1 L1185.8,665.1 L1188.0,664.0 L1189.1,661.8 L1190.7,662.3 L1191.6,665.7 L1192.6,666.6 L1194.2,668.2 L1195.1,670.0 L1195.8,670.6 L1197.2,668.0 L1198.1,665.9 L1199.6,668.0 L1200.7,665.1 L1201.8,664.9 L1202.7,661.8 L1204.2,662.5 L1205.7,658.5 L1206.9,659.5 L1208.4,658.9 L1210.1,658.2 L1211.3,656.7 L1212.6,659.5 L1212.7,660.4 L1213.2,661.7 L1214.0,662.5 L1214.6,663.7 L1215.4,663.7 L1215.8,665.8 L1216.4,667.7 L1217.7,667.9 L1219.2,667.5 L1220.2,668.4 L1222.0,667.9 L1223.6,665.9 L1225.0,665.2 L1227.0,667.4 L1228.2,664.8 L1229.1,669.3 L1229.9,667.6 L1230.9,672.1 L1232.2,672.9 L1232.6,674.3 L1233.6,675.3 L1234.7,676.9 L1235.6,680.3 L1237.5,679.0 L1238.8,679.5 L1240.6,680.6 L1242.4,679.3 L1243.9,680.8 L1246.3,680.8 L1246.3,683.0 L1247.0,684.5 L1247.2,686.4 L1247.6,688.4 L1248.1,690.5 L1248.5,692.3 L1248.8,693.7 L1249.5,694.8 L1249.6,694.7 L1250.4,698.1 L1250.8,701.1 L1251.3,702.7 L1251.0,702.0 L1251.8,703.4 L1251.8,705.3 L1252.6,706.7 L1252.4,708.6 L1253.1,711.8 L1253.4,711.2 L1253.7,714.8 L1254.2,716.4 L1254.6,719.2 L1254.4,718.9 L1254.9,721.2 L1255.8,723.5 L1256.5,725.7 L1257.0,727.3 L1257.5,727.5 L1257.7,730.3 L1258.4,732.9 L1258.7,733.3 L1259.5,736.2 L1260.6,737.3 L1261.3,738.0 L1261.8,739.3 L1263.2,742.1 L1263.4,740.6 L1264.3,743.8 L1265.3,745.2 L1266.5,745.9 L1267.4,748.7 L1267.8,748.6 L1269.0,751.6 L1269.4,752.2 L1270.5,753.4 L1271.4,757.0 L1272.3,757.9 L1272.9,757.6 L1274.5,758.3 L1275.5,755.8 L1277.0,756.2 L1278.4,753.6 L1279.8,754.1 L1280.9,753.9 L1282.3,750.9 L1282.9,748.0 L1283.5,749.7 L1284.1,744.9 L1285.4,742.8 L1286.2,742.7 L1286.2,742.7 L1287.0,739.1 L1287.4,737.4 L1288.2,735.8 L1288.9,735.0 L1289.1,735.5 L1290.3,730.6 L1290.8,729.6 L1291.7,728.1 L1292.2,728.9 L1292.8,724.1 L1293.7,724.9 L1294.3,721.7 L1295.0,719.3 L1295.7,720.6 L1296.3,717.7 L1297.0,717.0 L1297.9,714.1 L1298.0,712.1 L1299.1,711.8 L1299.4,707.8 L1300.1,709.4 L1300.4,705.9 L1301.4,703.8 L1302.0,704.6 L1303.1,703.9 L1304.4,699.5 L1305.5,699.7 L1307.4,697.7 L1308.1,699.9 L1310.6,696.8 L1311.9,697.1 L1313.6,697.3 L1314.0,698.2 L1313.8,702.8 L1314.1,703.3 L1314.8,706.1 L1314.7,708.1 L1315.0,706.9 L1315.3,708.3 L1315.5,710.9 L1315.6,712.4 L1315.4,714.9 L1315.7,716.6 L1316.0,716.9 L1316.3,720.0 L1316.4,720.9 L1316.5,722.0 L1316.8,723.9 L1316.5,725.3 L1316.6,726.5 L1316.6,730.0 L1317.2,730.0 L1316.7,732.4 L1317.3,734.4 L1317.4,737.4 L1317.1,738.3 L1316.9,739.8 L1317.6,742.2 L1317.7,744.7 L1317.7,745.4 L1318.2,745.5 L1319.2,746.6 L1319.4,749.5 L1320.4,752.9 L1321.3,751.5 L1321.8,754.6 L1322.3,757.2 L1322.9,756.4 L1323.5,757.6 L1323.6,760.2 L1324.0,760.4 L1325.1,763.7 L1325.5,766.1 L1325.9,766.8 L1326.9,767.1 L1328.1,770.6 L1329.6,770.8 L1330.9,769.9 L1332.4,774.1 L1333.0,774.1 L1333.7,774.2 L1334.2,778.2 L1334.7,778.9 L1335.0,781.9 L1336.1,780.9 L1336.3,785.2 L1337.6,785.1 L1338.9,785.5 L1339.9,786.6 L1340.5,788.3 L1341.6,791.7 L1342.6,789.6 L1343.6,791.8 L1345.1,792.5 L1345.7,794.2 L1345.9,795.5 L1346.7,796.1 L1347.1,801.4 L1347.0,800.3 L1347.3,803.5 L1347.6,803.3 L1347.7,807.1 L1347.7,808.1 L1347.8,809.8 L1348.6,812.8 L1348.4,813.1 L1348.8,814.1 L1348.9,816.4 L1348.8,817.5 L1348.8,820.3 L1349.0,820.4 L1349.7,821.6 L1349.7,823.6 L1350.0,824.3 L1350.1,827.5 L1350.1,827.8 L1350.1,832.2 L1350.3,831.1 L1350.7,835.4 L1350.6,834.3 L1350.7,839.3 L1351.3,837.7 L1351.2,842.2 L1351.6,843.4 L1351.3,845.6 L1352.1,846.9 L1351.9,848.8 L1352.4,848.9 L1352.5,852.9 L1352.7,852.7 L1352.6,855.8 L1353.6,854.1 L1354.3,855.4 L1355.4,858.3 L1356.1,856.9 L1356.2,856.4 L1356.7,854.8 L1357.5,850.8 L1357.8,851.6 L1358.5,849.2 L1358.8,845.7 L1358.8,846.5 L1359.6,841.7 L1359.5,841.7 L1359.7,841.0 L1359.7,836.8 L1360.1,837.5 L1359.8,834.8 L1360.0,835.1 L1360.7,830.7 L1360.8,831.6 L1361.0,827.8 L1361.1,827.2 L1361.2,826.0 L1361.2,823.4 L1361.2,822.7 L1361.8,818.3 L1362.1,816.5 L1362.0,815.4 L1362.1,814.0 L1362.0,813.7 L1362.6,811.8 L1362.2,808.6 L1362.2,807.1 L1362.9,804.7 L1362.3,806.8 L1362.8,804.6 L1363.1,800.5 L1363.0,798.5 L1363.2,799.0 L1362.9,795.6 L1363.1,795.5 L1363.5,793.7 L1363.6,789.9 L1363.4,791.9 L1364.0,788.6 L1364.6,788.1 L1365.4,783.4 L1366.1,783.1 L1367.0,780.5 L1367.0,780.1 L1367.1,779.2 L1368.1,778.2 L1368.1,773.9 L1368.8,771.4 L1369.0,773.4 L1369.2,771.7 L1369.9,769.6 L1370.0,768.1 L1370.1,764.9 L1370.5,765.0 L1371.3,761.9 L1371.5,758.7 L1371.6,757.6 L1372.3,756.4 L1372.9,756.0 L1373.5,755.2 L1374.6,751.7 L1376.0,752.5 L1377.0,749.5 L1378.3,750.5 L1379.6,750.8 L1379.6,748.3 L1380.5,747.4 L1380.3,745.9 L1381.0,743.7 L1380.6,739.2 L1381.5,739.7 L1381.7,735.6 L1381.6,736.3 L1381.9,732.6 L1382.0,732.4 L1382.7,732.3 L1383.0,727.8 L1383.5,727.9 L1383.8,727.8 L1383.8,722.6 L1384.3,721.3 L1384.7,719.4 L1384.9,719.9 L1385.4,719.5 L1385.8,717.2 L1386.3,714.9 L1386.7,711.3 L1387.5,712.4 L1388.4,709.9 L1389.0,708.1 L1389.6,708.2 L1391.0,704.9 L1392.5,704.7 L1393.7,702.2 L1395.7,701.7 L1396.9,702.7 L1398.6,702.6 L1400.1,702.8 L1402.2,702.6 L1403.2,705.3 L1404.9,703.8 L1405.8,706.6 L1406.8,708.7 L1407.6,711.4 L1408.7,712.7 L1410.5,709.8 L1412.7,711.7 L1414.7,712.2 L1416.0,710.8 L1418.0,712.5 L1419.7,713.2 L1420.1,709.1 L1419.8,710.1 L1420.0,708.4 L1420.7,706.2 L1420.5,702.9 L1421.2,701.0 L1421.5,700.4 L1421.6,697.2 L1421.4,696.0 L1421.7,693.8 L1421.9,695.4 L1422.3,700.3 L1422.6,701.2 L1422.6,702.0 L1422.8,705.5 L1423.5,707.3 L1423.2,708.7 L1423.8,710.9 L1423.9,711.1 L1424.4,712.3 L1424.6,716.1 L1424.5,714.6 L1424.4,715.1 L1425.0,714.2 L1424.9,709.6 L1425.5,710.1 L1425.2,709.7 L1425.6,707.4 L1425.6,704.0 L1425.6,701.3 L1425.8,700.9 L1426.2,698.4 L1426.2,696.5 L1427.0,695.3 L1426.9,694.3 L1427.3,693.2 L1427.5,695.9 L1427.5,697.8 L1427.4,699.5 L1427.5,700.1 L1427.7,703.0 L1427.8,704.9 L1428.3,704.0 L1428.1,706.6 L1428.8,706.6 L1428.7,708.5 L1428.8,712.6 L1428.7,712.9 L1429.2,716.4 L1429.3,717.0 L1429.4,718.8 L1429.6,715.0 L1430.1,715.5 L1430.1,712.9 L1430.3,712.8 L1430.1,711.2 L1430.7,709.0 L1430.7,706.1 L1430.5,702.8 L1431.3,700.6 L1431.2,700.3 L1431.6,698.7 L1431.4,698.1 L1431.5,696.0 L1431.6,695.4 L1432.0,693.6 L1432.5,692.3 L1432.5,694.2 L1432.2,696.1 L1433.0,699.8 L1433.0,701.9 L1432.7,702.6 L1433.0,705.6 L1433.0,705.9 L1433.5,706.3 L1433.6,708.6 L1433.5,709.9 L1433.9,712.6 L1434.1,712.2 L1434.5,716.0 L1434.2,716.7 L1434.8,715.8 L1435.2,713.5 L1435.1,711.3 L1434.9,708.3 L1435.2,707.2 L1435.3,705.5 L1435.8,706.6 L1436.0,703.2 L1436.4,700.7 L1436.2,700.8 L1436.1,696.3 L1436.8,694.6 L1436.8,692.9 L1436.9,693.1 L1437.5,693.9 L1437.5,698.0 L1437.9,698.1 L1437.5,700.4 L1437.6,699.8 L1438.0,701.3 L1438.0,704.9 L1438.3,704.5 L1438.9,707.6 L1439.0,710.9 L1439.2,710.1 L1439.2,711.9 L1439.1,714.5 L1439.3,716.2 L1439.5,715.5 L1439.7,713.7 L1440.0,709.0 L1440.4,710.7 L1440.5,706.6 L1440.8,705.2 L1440.6,703.3 L1440.7,704.4 L1441.1,699.4 L1441.5,698.4 L1441.4,697.4 L1442.0,697.0 L1441.8,692.8 L1442.2,694.2 L1442.6,697.9 L1442.9,698.0 L1442.8,702.2 L1442.8,700.9 L1442.9,704.9 L1443.6,706.1 L1443.4,705.5 L1443.8,708.0 L1444.3,712.0 L1443.9,711.9 L1444.3,714.2 L1445.6,711.9 L1445.9,710.7 L1447.0,711.0 L1448.1,707.8 L1449.1,709.3 L1450.6,706.3 L1452.2,706.4 L1454.0,709.2 L1456.0,707.5 L1457.4,709.8 L1459.2,708.4 L1461.1,707.4 L1461.8,711.3 L1462.9,712.4 L1463.5,714.1 L1464.3,716.7 L1465.3,716.6 L1465.4,720.0 L1466.6,721.2 L1468.2,721.7 L1469.1,722.2 L1470.2,721.3 L1471.8,721.1 L1473.9,721.8 L1475.6,723.7 L1477.0,725.9 L1478.9,723.2 L1480.3,723.5 L1481.7,726.8 L1483.7,725.0 L1484.1,726.1 L1484.1,730.3 L1484.0,732.2 L1484.5,734.2 L1484.9,734.1 L1484.5,736.2 L1484.8,738.8 L1485.1,740.1 L1485.5,741.2 L1485.9,744.1 L1485.8,744.4 L1485.9,747.8 L1486.6,748.8 L1486.2,750.7 L1486.7,750.2 L1486.8,754.6 L1487.0,757.0 L1487.3,756.5 L1486.8,757.5 L1486.8,759.7 L1487.3,762.1 L1487.5,762.3 L1487.7,765.0 L1487.9,767.9 L1487.4,769.2 L1488.0,770.4 L1487.9,770.6 L1487.9,773.6 L1488.0,773.5 L1488.5,776.5 L1488.7,780.2 L1489.0,781.5 L1488.8,781.5 L1489.1,781.2 L1488.9,785.9 L1488.9,786.6 L1490.6,786.9 L1491.8,784.1 L1493.8,784.8 L1494.9,782.1 L1495.2,779.9 L1495.5,779.4 L1495.4,775.4 L1495.2,777.4 L1495.7,774.3 L1495.8,770.7 L1495.9,772.2 L1496.6,768.6 L1496.1,765.5 L1496.7,765.7 L1497.1,761.8 L1498.3,763.9 L1499.9,761.2 L1501.4,760.4 L1502.7,761.0 L1503.9,761.8 L1505.2,764.1 L1507.0,762.4 L1507.8,765.8 L1509.7,766.1 L1510.7,764.3 L1512.5,764.5 L1514.0,765.4 L1515.2,769.3 L1516.2,767.9 L1516.8,769.0 L1518.0,773.1 L1519.8,773.9 L1520.0,774.5 L1520.8,777.7 L1521.4,779.7 L1521.6,779.2 L1522.8,782.5 L1523.3,781.2 L1523.9,783.2 L1524.4,784.3 L1525.6,787.0 L1526.5,789.5 L1527.1,791.7 L1527.9,790.7 L1528.2,794.1 L1529.5,792.8 L1530.2,794.9 L1530.6,799.4 L1531.1,799.3 L1532.5,799.0 L1532.8,802.6 L1533.4,802.3 L1534.3,806.0 L1535.6,802.0 L1536.0,801.8 L1537.0,801.5 L1538.0,800.1 L1538.2,798.4 L1539.1,796.5 L1539.1,793.6 L1539.5,792.9 L1540.0,790.6 L1540.0,791.2 L1541.0,787.5 L1541.1,784.1 L1541.2,787.2 L1541.3,790.3 L1541.8,789.5 L1541.9,794.8 L1542.1,796.3 L1542.5,797.1 L1542.7,799.1 L1543.0,800.5 L1543.3,800.6 L1543.3,803.7 L1543.4,805.5 L1544.0,802.3 L1543.8,800.4 L1544.2,800.2 L1544.2,796.5 L1544.4,797.4 L1544.6,794.6 L1545.4,791.3 L1545.3,790.9 L1545.3,787.8 L1546.1,787.8 L1545.9,787.7 L1546.1,787.8 L1546.4,790.8 L1546.7,790.5 L1547.6,793.9 L1547.5,794.5 L1547.6,798.1 L1548.1,799.3 L1548.4,801.6"/>
</g>
</svg>
</body></html>
